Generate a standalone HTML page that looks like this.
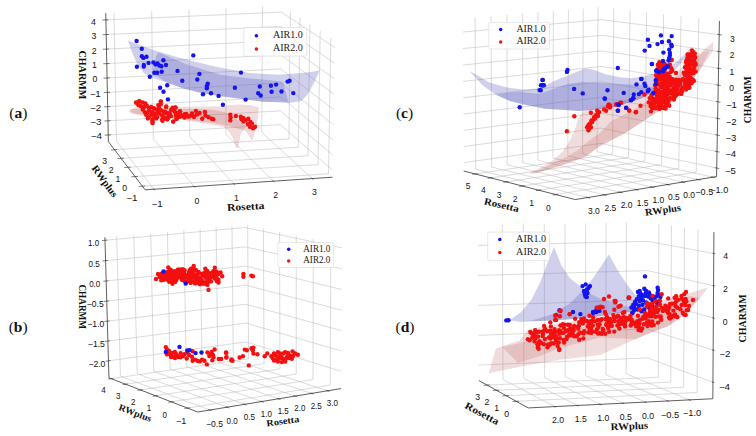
<!DOCTYPE html>
<html><head><meta charset="utf-8"><style>
html,body{margin:0;padding:0;background:#fff;}
svg{display:block;}
.tk{font-family:"Liberation Sans",sans-serif;font-size:8.6px;fill:#111;text-anchor:middle;dominant-baseline:central;}
.lb{font-family:"Liberation Serif",serif;font-weight:bold;fill:#111;}
.lg{font-family:"Liberation Serif",serif;font-size:10.5px;fill:#222;}
</style></head><body>
<svg width="756" height="436" viewBox="0 0 756 436">
<rect width="756" height="436" fill="#fff"/>
<line x1="116.44" y1="141.16" x2="114.00" y2="12.84" stroke="#bdbdbd" stroke-width="0.55"/>
<line x1="153.29" y1="138.93" x2="151.68" y2="11.19" stroke="#bdbdbd" stroke-width="0.55"/>
<line x1="189.79" y1="136.72" x2="188.99" y2="9.56" stroke="#bdbdbd" stroke-width="0.55"/>
<line x1="225.94" y1="134.52" x2="225.94" y2="7.94" stroke="#bdbdbd" stroke-width="0.55"/>
<line x1="261.74" y1="132.35" x2="262.53" y2="6.34" stroke="#bdbdbd" stroke-width="0.55"/>
<line x1="108.24" y1="134.95" x2="280.26" y2="124.67" stroke="#bdbdbd" stroke-width="0.55"/>
<line x1="107.95" y1="120.82" x2="280.39" y2="110.84" stroke="#bdbdbd" stroke-width="0.55"/>
<line x1="107.66" y1="106.62" x2="280.52" y2="96.94" stroke="#bdbdbd" stroke-width="0.55"/>
<line x1="107.37" y1="92.35" x2="280.65" y2="82.97" stroke="#bdbdbd" stroke-width="0.55"/>
<line x1="107.08" y1="78.01" x2="280.79" y2="68.93" stroke="#bdbdbd" stroke-width="0.55"/>
<line x1="106.78" y1="63.60" x2="280.92" y2="54.83" stroke="#bdbdbd" stroke-width="0.55"/>
<line x1="106.49" y1="49.12" x2="281.05" y2="40.66" stroke="#bdbdbd" stroke-width="0.55"/>
<line x1="106.19" y1="34.57" x2="281.19" y2="26.42" stroke="#bdbdbd" stroke-width="0.55"/>
<line x1="105.89" y1="19.94" x2="281.32" y2="12.11" stroke="#bdbdbd" stroke-width="0.55"/>
<line x1="328.44" y1="173.77" x2="330.88" y2="37.79" stroke="#bdbdbd" stroke-width="0.55"/>
<line x1="318.05" y1="164.60" x2="320.20" y2="30.82" stroke="#bdbdbd" stroke-width="0.55"/>
<line x1="308.01" y1="155.75" x2="309.89" y2="24.10" stroke="#bdbdbd" stroke-width="0.55"/>
<line x1="298.31" y1="147.20" x2="299.94" y2="17.61" stroke="#bdbdbd" stroke-width="0.55"/>
<line x1="288.93" y1="138.93" x2="290.32" y2="11.34" stroke="#bdbdbd" stroke-width="0.55"/>
<line x1="332.51" y1="170.11" x2="280.26" y2="124.67" stroke="#bdbdbd" stroke-width="0.55"/>
<line x1="332.79" y1="155.08" x2="280.39" y2="110.84" stroke="#bdbdbd" stroke-width="0.55"/>
<line x1="333.07" y1="139.97" x2="280.52" y2="96.94" stroke="#bdbdbd" stroke-width="0.55"/>
<line x1="333.35" y1="124.78" x2="280.65" y2="82.97" stroke="#bdbdbd" stroke-width="0.55"/>
<line x1="333.63" y1="109.51" x2="280.79" y2="68.93" stroke="#bdbdbd" stroke-width="0.55"/>
<line x1="333.92" y1="94.16" x2="280.92" y2="54.83" stroke="#bdbdbd" stroke-width="0.55"/>
<line x1="334.21" y1="78.72" x2="281.05" y2="40.66" stroke="#bdbdbd" stroke-width="0.55"/>
<line x1="334.50" y1="63.21" x2="281.19" y2="26.42" stroke="#bdbdbd" stroke-width="0.55"/>
<line x1="334.79" y1="47.61" x2="281.32" y2="12.11" stroke="#bdbdbd" stroke-width="0.55"/>
<line x1="153.99" y1="189.23" x2="116.44" y2="141.16" stroke="#bdbdbd" stroke-width="0.55"/>
<line x1="194.20" y1="186.53" x2="153.29" y2="138.93" stroke="#bdbdbd" stroke-width="0.55"/>
<line x1="233.98" y1="183.85" x2="189.79" y2="136.72" stroke="#bdbdbd" stroke-width="0.55"/>
<line x1="273.35" y1="181.20" x2="225.94" y2="134.52" stroke="#bdbdbd" stroke-width="0.55"/>
<line x1="312.31" y1="178.58" x2="261.74" y2="132.35" stroke="#bdbdbd" stroke-width="0.55"/>
<line x1="142.41" y1="186.19" x2="328.44" y2="173.77" stroke="#bdbdbd" stroke-width="0.55"/>
<line x1="135.06" y1="176.58" x2="318.05" y2="164.60" stroke="#bdbdbd" stroke-width="0.55"/>
<line x1="127.98" y1="167.30" x2="308.01" y2="155.75" stroke="#bdbdbd" stroke-width="0.55"/>
<line x1="121.13" y1="158.35" x2="298.31" y2="147.20" stroke="#bdbdbd" stroke-width="0.55"/>
<line x1="114.52" y1="149.69" x2="288.93" y2="138.93" stroke="#bdbdbd" stroke-width="0.55"/>
<line x1="108.38" y1="141.65" x2="105.75" y2="13.20" stroke="#2a2a2a" stroke-width="0.75"/>
<line x1="145.18" y1="189.83" x2="108.38" y2="141.65" stroke="#2a2a2a" stroke-width="0.75"/>
<line x1="145.18" y1="189.83" x2="332.37" y2="177.23" stroke="#2a2a2a" stroke-width="0.75"/>
<line x1="104.72" y1="135.16" x2="110.88" y2="134.80" stroke="#2a2a2a" stroke-width="0.6000000000000001"/>
<line x1="104.42" y1="121.03" x2="110.60" y2="120.67" stroke="#2a2a2a" stroke-width="0.6000000000000001"/>
<line x1="104.12" y1="106.82" x2="110.31" y2="106.48" stroke="#2a2a2a" stroke-width="0.6000000000000001"/>
<line x1="103.82" y1="92.55" x2="110.03" y2="92.21" stroke="#2a2a2a" stroke-width="0.6000000000000001"/>
<line x1="103.52" y1="78.20" x2="109.74" y2="77.88" stroke="#2a2a2a" stroke-width="0.6000000000000001"/>
<line x1="103.22" y1="63.78" x2="109.45" y2="63.47" stroke="#2a2a2a" stroke-width="0.6000000000000001"/>
<line x1="102.91" y1="49.29" x2="109.17" y2="48.99" stroke="#2a2a2a" stroke-width="0.6000000000000001"/>
<line x1="102.61" y1="34.73" x2="108.88" y2="34.44" stroke="#2a2a2a" stroke-width="0.6000000000000001"/>
<line x1="102.30" y1="20.10" x2="108.58" y2="19.82" stroke="#2a2a2a" stroke-width="0.6000000000000001"/>
<line x1="138.59" y1="186.44" x2="145.26" y2="186.00" stroke="#2a2a2a" stroke-width="0.6000000000000001"/>
<line x1="131.31" y1="176.82" x2="137.87" y2="176.40" stroke="#2a2a2a" stroke-width="0.6000000000000001"/>
<line x1="124.29" y1="167.54" x2="130.74" y2="167.13" stroke="#2a2a2a" stroke-width="0.6000000000000001"/>
<line x1="117.50" y1="158.58" x2="123.85" y2="158.18" stroke="#2a2a2a" stroke-width="0.6000000000000001"/>
<line x1="110.95" y1="149.92" x2="117.20" y2="149.53" stroke="#2a2a2a" stroke-width="0.6000000000000001"/>
<line x1="154.81" y1="190.29" x2="153.37" y2="188.44" stroke="#2a2a2a" stroke-width="0.6000000000000001"/>
<line x1="195.10" y1="187.58" x2="193.52" y2="185.75" stroke="#2a2a2a" stroke-width="0.6000000000000001"/>
<line x1="234.95" y1="184.89" x2="233.26" y2="183.08" stroke="#2a2a2a" stroke-width="0.6000000000000001"/>
<line x1="274.39" y1="182.23" x2="272.57" y2="180.44" stroke="#2a2a2a" stroke-width="0.6000000000000001"/>
<line x1="313.42" y1="179.60" x2="311.48" y2="177.83" stroke="#2a2a2a" stroke-width="0.6000000000000001"/>
<text x="157.06" y="203.65" class="tk" textLength="11.20" lengthAdjust="spacingAndGlyphs">−1</text>
<text x="197.02" y="200.80" class="tk" textLength="4.84" lengthAdjust="spacingAndGlyphs">0</text>
<text x="236.56" y="197.97" class="tk" textLength="4.84" lengthAdjust="spacingAndGlyphs">1</text>
<text x="275.68" y="195.18" class="tk" textLength="4.84" lengthAdjust="spacingAndGlyphs">2</text>
<text x="314.38" y="192.41" class="tk" textLength="4.84" lengthAdjust="spacingAndGlyphs">3</text>
<text x="131.95" y="197.86" class="tk" textLength="11.20" lengthAdjust="spacingAndGlyphs">−1</text>
<text x="124.76" y="188.16" class="tk" textLength="4.84" lengthAdjust="spacingAndGlyphs">0</text>
<text x="117.84" y="178.80" class="tk" textLength="4.84" lengthAdjust="spacingAndGlyphs">1</text>
<text x="111.15" y="169.76" class="tk" textLength="4.84" lengthAdjust="spacingAndGlyphs">2</text>
<text x="104.70" y="161.02" class="tk" textLength="4.84" lengthAdjust="spacingAndGlyphs">3</text>
<text x="96.30" y="136.07" class="tk" textLength="11.20" lengthAdjust="spacingAndGlyphs">−4</text>
<text x="95.95" y="122.00" class="tk" textLength="11.20" lengthAdjust="spacingAndGlyphs">−3</text>
<text x="95.60" y="107.87" class="tk" textLength="11.20" lengthAdjust="spacingAndGlyphs">−2</text>
<text x="95.25" y="93.66" class="tk" textLength="11.20" lengthAdjust="spacingAndGlyphs">−1</text>
<text x="94.90" y="79.38" class="tk" textLength="4.84" lengthAdjust="spacingAndGlyphs">0</text>
<text x="94.55" y="65.03" class="tk" textLength="4.84" lengthAdjust="spacingAndGlyphs">1</text>
<text x="94.19" y="50.61" class="tk" textLength="4.84" lengthAdjust="spacingAndGlyphs">2</text>
<text x="93.83" y="36.11" class="tk" textLength="4.84" lengthAdjust="spacingAndGlyphs">3</text>
<text x="93.48" y="21.55" class="tk" textLength="4.84" lengthAdjust="spacingAndGlyphs">4</text>
<line x1="120.44" y1="376.13" x2="116.68" y2="236.24" stroke="#bdbdbd" stroke-width="0.55"/>
<line x1="137.19" y1="373.71" x2="133.80" y2="234.70" stroke="#bdbdbd" stroke-width="0.55"/>
<line x1="153.72" y1="371.32" x2="150.71" y2="233.18" stroke="#bdbdbd" stroke-width="0.55"/>
<line x1="170.04" y1="368.96" x2="167.39" y2="231.68" stroke="#bdbdbd" stroke-width="0.55"/>
<line x1="186.16" y1="366.63" x2="183.85" y2="230.20" stroke="#bdbdbd" stroke-width="0.55"/>
<line x1="202.07" y1="364.33" x2="200.10" y2="228.74" stroke="#bdbdbd" stroke-width="0.55"/>
<line x1="217.77" y1="362.06" x2="216.14" y2="227.29" stroke="#bdbdbd" stroke-width="0.55"/>
<line x1="233.28" y1="359.82" x2="231.97" y2="225.87" stroke="#bdbdbd" stroke-width="0.55"/>
<line x1="108.46" y1="360.87" x2="246.06" y2="341.89" stroke="#bdbdbd" stroke-width="0.55"/>
<line x1="107.90" y1="341.07" x2="245.92" y2="323.10" stroke="#bdbdbd" stroke-width="0.55"/>
<line x1="107.33" y1="321.16" x2="245.77" y2="304.20" stroke="#bdbdbd" stroke-width="0.55"/>
<line x1="106.75" y1="301.13" x2="245.62" y2="285.19" stroke="#bdbdbd" stroke-width="0.55"/>
<line x1="106.17" y1="280.97" x2="245.47" y2="266.08" stroke="#bdbdbd" stroke-width="0.55"/>
<line x1="105.59" y1="260.70" x2="245.32" y2="246.86" stroke="#bdbdbd" stroke-width="0.55"/>
<line x1="105.01" y1="240.30" x2="245.17" y2="227.52" stroke="#bdbdbd" stroke-width="0.55"/>
<line x1="330.20" y1="385.08" x2="330.89" y2="242.52" stroke="#bdbdbd" stroke-width="0.55"/>
<line x1="312.98" y1="379.52" x2="313.30" y2="238.86" stroke="#bdbdbd" stroke-width="0.55"/>
<line x1="296.24" y1="374.12" x2="296.20" y2="235.30" stroke="#bdbdbd" stroke-width="0.55"/>
<line x1="279.94" y1="368.86" x2="279.57" y2="231.84" stroke="#bdbdbd" stroke-width="0.55"/>
<line x1="264.08" y1="363.73" x2="263.39" y2="228.48" stroke="#bdbdbd" stroke-width="0.55"/>
<line x1="248.64" y1="358.75" x2="247.64" y2="225.20" stroke="#bdbdbd" stroke-width="0.55"/>
<line x1="341.14" y1="371.27" x2="246.06" y2="341.89" stroke="#bdbdbd" stroke-width="0.55"/>
<line x1="341.27" y1="351.02" x2="245.92" y2="323.10" stroke="#bdbdbd" stroke-width="0.55"/>
<line x1="341.40" y1="330.65" x2="245.77" y2="304.20" stroke="#bdbdbd" stroke-width="0.55"/>
<line x1="341.53" y1="310.15" x2="245.62" y2="285.19" stroke="#bdbdbd" stroke-width="0.55"/>
<line x1="341.67" y1="289.53" x2="245.47" y2="266.08" stroke="#bdbdbd" stroke-width="0.55"/>
<line x1="341.80" y1="268.78" x2="245.32" y2="246.86" stroke="#bdbdbd" stroke-width="0.55"/>
<line x1="341.94" y1="247.89" x2="245.17" y2="227.52" stroke="#bdbdbd" stroke-width="0.55"/>
<line x1="209.70" y1="410.03" x2="120.44" y2="376.13" stroke="#bdbdbd" stroke-width="0.55"/>
<line x1="227.26" y1="407.16" x2="137.19" y2="373.71" stroke="#bdbdbd" stroke-width="0.55"/>
<line x1="244.57" y1="404.34" x2="153.72" y2="371.32" stroke="#bdbdbd" stroke-width="0.55"/>
<line x1="261.64" y1="401.55" x2="170.04" y2="368.96" stroke="#bdbdbd" stroke-width="0.55"/>
<line x1="278.47" y1="398.80" x2="186.16" y2="366.63" stroke="#bdbdbd" stroke-width="0.55"/>
<line x1="295.07" y1="396.09" x2="202.07" y2="364.33" stroke="#bdbdbd" stroke-width="0.55"/>
<line x1="311.45" y1="393.41" x2="217.77" y2="362.06" stroke="#bdbdbd" stroke-width="0.55"/>
<line x1="327.60" y1="390.77" x2="233.28" y2="359.82" stroke="#bdbdbd" stroke-width="0.55"/>
<line x1="187.48" y1="408.08" x2="330.20" y2="385.08" stroke="#bdbdbd" stroke-width="0.55"/>
<line x1="171.33" y1="401.85" x2="312.98" y2="379.52" stroke="#bdbdbd" stroke-width="0.55"/>
<line x1="155.66" y1="395.81" x2="296.24" y2="374.12" stroke="#bdbdbd" stroke-width="0.55"/>
<line x1="140.42" y1="389.93" x2="279.94" y2="368.86" stroke="#bdbdbd" stroke-width="0.55"/>
<line x1="125.62" y1="384.22" x2="264.08" y2="363.73" stroke="#bdbdbd" stroke-width="0.55"/>
<line x1="111.23" y1="378.67" x2="248.64" y2="358.75" stroke="#bdbdbd" stroke-width="0.55"/>
<line x1="108.95" y1="377.79" x2="104.92" y2="237.30" stroke="#2a2a2a" stroke-width="0.75"/>
<line x1="197.65" y1="412.00" x2="108.95" y2="377.79" stroke="#2a2a2a" stroke-width="0.75"/>
<line x1="197.65" y1="412.00" x2="341.02" y2="388.58" stroke="#2a2a2a" stroke-width="0.75"/>
<line x1="105.55" y1="361.27" x2="110.64" y2="360.57" stroke="#2a2a2a" stroke-width="0.6000000000000001"/>
<line x1="104.98" y1="341.45" x2="110.08" y2="340.79" stroke="#2a2a2a" stroke-width="0.6000000000000001"/>
<line x1="104.40" y1="321.52" x2="109.52" y2="320.89" stroke="#2a2a2a" stroke-width="0.6000000000000001"/>
<line x1="103.81" y1="301.46" x2="108.95" y2="300.88" stroke="#2a2a2a" stroke-width="0.6000000000000001"/>
<line x1="103.23" y1="281.29" x2="108.38" y2="280.74" stroke="#2a2a2a" stroke-width="0.6000000000000001"/>
<line x1="102.64" y1="260.99" x2="107.81" y2="260.48" stroke="#2a2a2a" stroke-width="0.6000000000000001"/>
<line x1="102.04" y1="240.57" x2="107.23" y2="240.10" stroke="#2a2a2a" stroke-width="0.6000000000000001"/>
<line x1="184.45" y1="408.57" x2="189.75" y2="407.72" stroke="#2a2a2a" stroke-width="0.6000000000000001"/>
<line x1="168.33" y1="402.33" x2="173.58" y2="401.50" stroke="#2a2a2a" stroke-width="0.6000000000000001"/>
<line x1="152.68" y1="396.27" x2="157.89" y2="395.46" stroke="#2a2a2a" stroke-width="0.6000000000000001"/>
<line x1="137.47" y1="390.38" x2="142.64" y2="389.60" stroke="#2a2a2a" stroke-width="0.6000000000000001"/>
<line x1="122.69" y1="384.65" x2="127.81" y2="383.90" stroke="#2a2a2a" stroke-width="0.6000000000000001"/>
<line x1="108.32" y1="379.09" x2="113.40" y2="378.35" stroke="#2a2a2a" stroke-width="0.6000000000000001"/>
<line x1="211.65" y1="410.77" x2="208.25" y2="409.48" stroke="#2a2a2a" stroke-width="0.6000000000000001"/>
<line x1="229.22" y1="407.89" x2="225.79" y2="406.62" stroke="#2a2a2a" stroke-width="0.6000000000000001"/>
<line x1="246.54" y1="405.05" x2="243.09" y2="403.80" stroke="#2a2a2a" stroke-width="0.6000000000000001"/>
<line x1="263.63" y1="402.26" x2="260.15" y2="401.02" stroke="#2a2a2a" stroke-width="0.6000000000000001"/>
<line x1="280.48" y1="399.50" x2="276.97" y2="398.28" stroke="#2a2a2a" stroke-width="0.6000000000000001"/>
<line x1="297.09" y1="396.78" x2="293.56" y2="395.57" stroke="#2a2a2a" stroke-width="0.6000000000000001"/>
<line x1="313.48" y1="394.09" x2="309.93" y2="392.90" stroke="#2a2a2a" stroke-width="0.6000000000000001"/>
<line x1="329.64" y1="391.44" x2="326.07" y2="390.27" stroke="#2a2a2a" stroke-width="0.6000000000000001"/>
<text x="214.46" y="423.62" class="tk" textLength="17.00" lengthAdjust="spacingAndGlyphs">−0.5</text>
<text x="232.02" y="420.51" class="tk" textLength="11.13" lengthAdjust="spacingAndGlyphs">0.0</text>
<text x="249.33" y="417.44" class="tk" textLength="11.13" lengthAdjust="spacingAndGlyphs">0.5</text>
<text x="266.41" y="414.41" class="tk" textLength="11.13" lengthAdjust="spacingAndGlyphs">1.0</text>
<text x="283.24" y="411.42" class="tk" textLength="11.13" lengthAdjust="spacingAndGlyphs">1.5</text>
<text x="299.84" y="408.47" class="tk" textLength="11.13" lengthAdjust="spacingAndGlyphs">2.0</text>
<text x="316.22" y="405.55" class="tk" textLength="11.13" lengthAdjust="spacingAndGlyphs">2.5</text>
<text x="332.37" y="402.67" class="tk" textLength="11.13" lengthAdjust="spacingAndGlyphs">3.0</text>
<text x="181.26" y="421.05" class="tk" textLength="10.32" lengthAdjust="spacingAndGlyphs">−1</text>
<text x="164.83" y="414.57" class="tk" textLength="4.45" lengthAdjust="spacingAndGlyphs">0</text>
<text x="148.86" y="408.27" class="tk" textLength="4.45" lengthAdjust="spacingAndGlyphs">1</text>
<text x="133.34" y="402.15" class="tk" textLength="4.45" lengthAdjust="spacingAndGlyphs">2</text>
<text x="118.25" y="396.18" class="tk" textLength="4.45" lengthAdjust="spacingAndGlyphs">3</text>
<text x="103.57" y="390.38" class="tk" textLength="4.45" lengthAdjust="spacingAndGlyphs">4</text>
<text x="96.92" y="364.02" class="tk" textLength="17.00" lengthAdjust="spacingAndGlyphs">−2.0</text>
<text x="96.37" y="344.19" class="tk" textLength="17.00" lengthAdjust="spacingAndGlyphs">−1.5</text>
<text x="95.82" y="324.24" class="tk" textLength="17.00" lengthAdjust="spacingAndGlyphs">−1.0</text>
<text x="95.26" y="304.17" class="tk" textLength="17.00" lengthAdjust="spacingAndGlyphs">−0.5</text>
<text x="94.70" y="283.98" class="tk" textLength="11.13" lengthAdjust="spacingAndGlyphs">0.0</text>
<text x="94.14" y="263.67" class="tk" textLength="11.13" lengthAdjust="spacingAndGlyphs">0.5</text>
<text x="93.58" y="243.24" class="tk" textLength="11.13" lengthAdjust="spacingAndGlyphs">1.0</text>
<line x1="597.00" y1="151.78" x2="598.00" y2="7.29" stroke="#bdbdbd" stroke-width="0.55"/>
<line x1="582.49" y1="153.87" x2="583.29" y2="8.53" stroke="#bdbdbd" stroke-width="0.55"/>
<line x1="567.81" y1="155.99" x2="568.40" y2="9.78" stroke="#bdbdbd" stroke-width="0.55"/>
<line x1="552.94" y1="158.13" x2="553.33" y2="11.04" stroke="#bdbdbd" stroke-width="0.55"/>
<line x1="537.89" y1="160.30" x2="538.06" y2="12.32" stroke="#bdbdbd" stroke-width="0.55"/>
<line x1="522.65" y1="162.50" x2="522.61" y2="13.62" stroke="#bdbdbd" stroke-width="0.55"/>
<line x1="507.23" y1="164.72" x2="506.95" y2="14.94" stroke="#bdbdbd" stroke-width="0.55"/>
<line x1="491.61" y1="166.98" x2="491.10" y2="16.27" stroke="#bdbdbd" stroke-width="0.55"/>
<line x1="475.79" y1="169.26" x2="475.05" y2="17.61" stroke="#bdbdbd" stroke-width="0.55"/>
<line x1="600.61" y1="143.37" x2="463.66" y2="162.67" stroke="#bdbdbd" stroke-width="0.55"/>
<line x1="600.72" y1="128.07" x2="463.57" y2="146.52" stroke="#bdbdbd" stroke-width="0.55"/>
<line x1="600.83" y1="112.72" x2="463.47" y2="130.31" stroke="#bdbdbd" stroke-width="0.55"/>
<line x1="600.95" y1="97.33" x2="463.37" y2="114.06" stroke="#bdbdbd" stroke-width="0.55"/>
<line x1="601.06" y1="81.88" x2="463.27" y2="97.76" stroke="#bdbdbd" stroke-width="0.55"/>
<line x1="601.17" y1="66.40" x2="463.17" y2="81.40" stroke="#bdbdbd" stroke-width="0.55"/>
<line x1="601.28" y1="50.86" x2="463.07" y2="65.00" stroke="#bdbdbd" stroke-width="0.55"/>
<line x1="601.40" y1="35.28" x2="462.97" y2="48.54" stroke="#bdbdbd" stroke-width="0.55"/>
<line x1="601.51" y1="19.65" x2="462.87" y2="32.02" stroke="#bdbdbd" stroke-width="0.55"/>
<line x1="696.25" y1="172.15" x2="698.81" y2="18.52" stroke="#bdbdbd" stroke-width="0.55"/>
<line x1="678.75" y1="168.33" x2="681.02" y2="16.41" stroke="#bdbdbd" stroke-width="0.55"/>
<line x1="661.65" y1="164.60" x2="663.64" y2="14.35" stroke="#bdbdbd" stroke-width="0.55"/>
<line x1="644.92" y1="160.95" x2="646.65" y2="12.33" stroke="#bdbdbd" stroke-width="0.55"/>
<line x1="628.57" y1="157.38" x2="630.04" y2="10.36" stroke="#bdbdbd" stroke-width="0.55"/>
<line x1="612.56" y1="153.89" x2="613.79" y2="8.44" stroke="#bdbdbd" stroke-width="0.55"/>
<line x1="716.71" y1="168.07" x2="600.61" y2="143.37" stroke="#bdbdbd" stroke-width="0.55"/>
<line x1="717.02" y1="151.58" x2="600.72" y2="128.07" stroke="#bdbdbd" stroke-width="0.55"/>
<line x1="717.33" y1="135.04" x2="600.83" y2="112.72" stroke="#bdbdbd" stroke-width="0.55"/>
<line x1="717.63" y1="118.44" x2="600.95" y2="97.33" stroke="#bdbdbd" stroke-width="0.55"/>
<line x1="717.95" y1="101.79" x2="601.06" y2="81.88" stroke="#bdbdbd" stroke-width="0.55"/>
<line x1="718.26" y1="85.08" x2="601.17" y2="66.40" stroke="#bdbdbd" stroke-width="0.55"/>
<line x1="718.57" y1="68.32" x2="601.28" y2="50.86" stroke="#bdbdbd" stroke-width="0.55"/>
<line x1="718.88" y1="51.51" x2="601.40" y2="35.28" stroke="#bdbdbd" stroke-width="0.55"/>
<line x1="719.20" y1="34.64" x2="601.51" y2="19.65" stroke="#bdbdbd" stroke-width="0.55"/>
<line x1="696.25" y1="172.15" x2="555.68" y2="194.54" stroke="#bdbdbd" stroke-width="0.55"/>
<line x1="678.75" y1="168.33" x2="538.82" y2="190.22" stroke="#bdbdbd" stroke-width="0.55"/>
<line x1="661.65" y1="164.60" x2="522.35" y2="186.01" stroke="#bdbdbd" stroke-width="0.55"/>
<line x1="644.92" y1="160.95" x2="506.27" y2="181.89" stroke="#bdbdbd" stroke-width="0.55"/>
<line x1="628.57" y1="157.38" x2="490.56" y2="177.87" stroke="#bdbdbd" stroke-width="0.55"/>
<line x1="612.56" y1="153.89" x2="475.22" y2="173.94" stroke="#bdbdbd" stroke-width="0.55"/>
<line x1="712.90" y1="177.17" x2="597.00" y2="151.78" stroke="#bdbdbd" stroke-width="0.55"/>
<line x1="697.98" y1="179.60" x2="582.49" y2="153.87" stroke="#bdbdbd" stroke-width="0.55"/>
<line x1="682.86" y1="182.06" x2="567.81" y2="155.99" stroke="#bdbdbd" stroke-width="0.55"/>
<line x1="667.54" y1="184.55" x2="552.94" y2="158.13" stroke="#bdbdbd" stroke-width="0.55"/>
<line x1="652.02" y1="187.07" x2="537.89" y2="160.30" stroke="#bdbdbd" stroke-width="0.55"/>
<line x1="636.29" y1="189.63" x2="522.65" y2="162.50" stroke="#bdbdbd" stroke-width="0.55"/>
<line x1="620.35" y1="192.22" x2="507.23" y2="164.72" stroke="#bdbdbd" stroke-width="0.55"/>
<line x1="604.18" y1="194.85" x2="491.61" y2="166.98" stroke="#bdbdbd" stroke-width="0.55"/>
<line x1="587.80" y1="197.52" x2="475.79" y2="169.26" stroke="#bdbdbd" stroke-width="0.55"/>
<line x1="716.55" y1="176.58" x2="719.45" y2="20.97" stroke="#2a2a2a" stroke-width="0.75"/>
<line x1="575.28" y1="199.55" x2="463.71" y2="171.00" stroke="#2a2a2a" stroke-width="0.75"/>
<line x1="716.55" y1="176.58" x2="575.28" y2="199.55" stroke="#2a2a2a" stroke-width="0.75"/>
<line x1="719.22" y1="168.60" x2="714.83" y2="167.67" stroke="#2a2a2a" stroke-width="0.6000000000000001"/>
<line x1="719.53" y1="152.09" x2="715.13" y2="151.20" stroke="#2a2a2a" stroke-width="0.6000000000000001"/>
<line x1="719.85" y1="135.52" x2="715.44" y2="134.67" stroke="#2a2a2a" stroke-width="0.6000000000000001"/>
<line x1="720.16" y1="118.90" x2="715.75" y2="118.10" stroke="#2a2a2a" stroke-width="0.6000000000000001"/>
<line x1="720.48" y1="102.22" x2="716.05" y2="101.46" stroke="#2a2a2a" stroke-width="0.6000000000000001"/>
<line x1="720.79" y1="85.49" x2="716.36" y2="84.78" stroke="#2a2a2a" stroke-width="0.6000000000000001"/>
<line x1="721.11" y1="68.70" x2="716.67" y2="68.04" stroke="#2a2a2a" stroke-width="0.6000000000000001"/>
<line x1="721.43" y1="51.86" x2="716.98" y2="51.25" stroke="#2a2a2a" stroke-width="0.6000000000000001"/>
<line x1="721.75" y1="34.96" x2="717.29" y2="34.40" stroke="#2a2a2a" stroke-width="0.6000000000000001"/>
<line x1="552.69" y1="195.01" x2="557.92" y2="194.18" stroke="#2a2a2a" stroke-width="0.6000000000000001"/>
<line x1="535.84" y1="190.68" x2="541.04" y2="189.87" stroke="#2a2a2a" stroke-width="0.6000000000000001"/>
<line x1="519.39" y1="186.46" x2="524.56" y2="185.67" stroke="#2a2a2a" stroke-width="0.6000000000000001"/>
<line x1="503.33" y1="182.33" x2="508.47" y2="181.56" stroke="#2a2a2a" stroke-width="0.6000000000000001"/>
<line x1="487.64" y1="178.30" x2="492.75" y2="177.55" stroke="#2a2a2a" stroke-width="0.6000000000000001"/>
<line x1="472.31" y1="174.37" x2="477.40" y2="173.62" stroke="#2a2a2a" stroke-width="0.6000000000000001"/>
<line x1="715.41" y1="177.72" x2="711.03" y2="176.76" stroke="#2a2a2a" stroke-width="0.6000000000000001"/>
<line x1="700.48" y1="180.15" x2="696.11" y2="179.18" stroke="#2a2a2a" stroke-width="0.6000000000000001"/>
<line x1="685.35" y1="182.62" x2="681.00" y2="181.63" stroke="#2a2a2a" stroke-width="0.6000000000000001"/>
<line x1="670.03" y1="185.12" x2="665.69" y2="184.12" stroke="#2a2a2a" stroke-width="0.6000000000000001"/>
<line x1="654.50" y1="187.65" x2="650.17" y2="186.64" stroke="#2a2a2a" stroke-width="0.6000000000000001"/>
<line x1="638.75" y1="190.22" x2="634.45" y2="189.19" stroke="#2a2a2a" stroke-width="0.6000000000000001"/>
<line x1="622.80" y1="192.82" x2="618.51" y2="191.78" stroke="#2a2a2a" stroke-width="0.6000000000000001"/>
<line x1="606.63" y1="195.46" x2="602.36" y2="194.40" stroke="#2a2a2a" stroke-width="0.6000000000000001"/>
<line x1="590.23" y1="198.13" x2="585.98" y2="197.06" stroke="#2a2a2a" stroke-width="0.6000000000000001"/>
<text x="548.39" y="207.84" class="tk" textLength="4.71" lengthAdjust="spacingAndGlyphs">0</text>
<text x="531.55" y="203.31" class="tk" textLength="4.71" lengthAdjust="spacingAndGlyphs">1</text>
<text x="515.10" y="198.88" class="tk" textLength="4.71" lengthAdjust="spacingAndGlyphs">2</text>
<text x="499.05" y="194.56" class="tk" textLength="4.71" lengthAdjust="spacingAndGlyphs">3</text>
<text x="483.37" y="190.33" class="tk" textLength="4.71" lengthAdjust="spacingAndGlyphs">4</text>
<text x="468.04" y="186.19" class="tk" textLength="4.71" lengthAdjust="spacingAndGlyphs">5</text>
<text x="719.23" y="189.66" class="tk" textLength="17.97" lengthAdjust="spacingAndGlyphs">−1.0</text>
<text x="704.29" y="192.21" class="tk" textLength="17.97" lengthAdjust="spacingAndGlyphs">−0.5</text>
<text x="689.15" y="194.79" class="tk" textLength="11.77" lengthAdjust="spacingAndGlyphs">0.0</text>
<text x="673.81" y="197.41" class="tk" textLength="11.77" lengthAdjust="spacingAndGlyphs">0.5</text>
<text x="658.26" y="200.05" class="tk" textLength="11.77" lengthAdjust="spacingAndGlyphs">1.0</text>
<text x="642.51" y="202.73" class="tk" textLength="11.77" lengthAdjust="spacingAndGlyphs">1.5</text>
<text x="626.54" y="205.45" class="tk" textLength="11.77" lengthAdjust="spacingAndGlyphs">2.0</text>
<text x="610.36" y="208.20" class="tk" textLength="11.77" lengthAdjust="spacingAndGlyphs">2.5</text>
<text x="593.95" y="210.99" class="tk" textLength="11.77" lengthAdjust="spacingAndGlyphs">3.0</text>
<text x="730.36" y="170.73" class="tk" textLength="10.91" lengthAdjust="spacingAndGlyphs">−5</text>
<text x="730.61" y="154.39" class="tk" textLength="10.91" lengthAdjust="spacingAndGlyphs">−4</text>
<text x="730.86" y="137.99" class="tk" textLength="10.91" lengthAdjust="spacingAndGlyphs">−3</text>
<text x="731.11" y="121.55" class="tk" textLength="10.91" lengthAdjust="spacingAndGlyphs">−2</text>
<text x="731.36" y="105.05" class="tk" textLength="10.91" lengthAdjust="spacingAndGlyphs">−1</text>
<text x="731.61" y="88.49" class="tk" textLength="4.71" lengthAdjust="spacingAndGlyphs">0</text>
<text x="731.86" y="71.89" class="tk" textLength="4.71" lengthAdjust="spacingAndGlyphs">1</text>
<text x="732.11" y="55.22" class="tk" textLength="4.71" lengthAdjust="spacingAndGlyphs">2</text>
<text x="732.36" y="38.50" class="tk" textLength="4.71" lengthAdjust="spacingAndGlyphs">3</text>
<line x1="626.17" y1="373.87" x2="626.43" y2="222.48" stroke="#bdbdbd" stroke-width="0.55"/>
<line x1="605.98" y1="374.78" x2="606.08" y2="222.90" stroke="#bdbdbd" stroke-width="0.55"/>
<line x1="585.66" y1="375.69" x2="585.60" y2="223.32" stroke="#bdbdbd" stroke-width="0.55"/>
<line x1="565.20" y1="376.62" x2="564.98" y2="223.75" stroke="#bdbdbd" stroke-width="0.55"/>
<line x1="544.61" y1="377.55" x2="544.22" y2="224.18" stroke="#bdbdbd" stroke-width="0.55"/>
<line x1="523.88" y1="378.48" x2="523.32" y2="224.61" stroke="#bdbdbd" stroke-width="0.55"/>
<line x1="503.02" y1="379.42" x2="502.28" y2="225.04" stroke="#bdbdbd" stroke-width="0.55"/>
<line x1="647.43" y1="357.91" x2="478.78" y2="365.11" stroke="#bdbdbd" stroke-width="0.55"/>
<line x1="647.51" y1="328.90" x2="478.60" y2="335.32" stroke="#bdbdbd" stroke-width="0.55"/>
<line x1="647.59" y1="299.80" x2="478.42" y2="305.42" stroke="#bdbdbd" stroke-width="0.55"/>
<line x1="647.68" y1="270.61" x2="478.24" y2="275.44" stroke="#bdbdbd" stroke-width="0.55"/>
<line x1="647.76" y1="241.33" x2="478.06" y2="245.36" stroke="#bdbdbd" stroke-width="0.55"/>
<line x1="697.10" y1="392.51" x2="698.00" y2="229.71" stroke="#bdbdbd" stroke-width="0.55"/>
<line x1="683.67" y1="387.22" x2="684.44" y2="227.64" stroke="#bdbdbd" stroke-width="0.55"/>
<line x1="670.77" y1="382.13" x2="671.41" y2="225.65" stroke="#bdbdbd" stroke-width="0.55"/>
<line x1="658.36" y1="377.24" x2="658.89" y2="223.73" stroke="#bdbdbd" stroke-width="0.55"/>
<line x1="712.95" y1="382.18" x2="647.43" y2="357.91" stroke="#bdbdbd" stroke-width="0.55"/>
<line x1="713.15" y1="350.16" x2="647.51" y2="328.90" stroke="#bdbdbd" stroke-width="0.55"/>
<line x1="713.36" y1="318.04" x2="647.59" y2="299.80" stroke="#bdbdbd" stroke-width="0.55"/>
<line x1="713.56" y1="285.80" x2="647.68" y2="270.61" stroke="#bdbdbd" stroke-width="0.55"/>
<line x1="713.77" y1="253.46" x2="647.76" y2="241.33" stroke="#bdbdbd" stroke-width="0.55"/>
<line x1="697.10" y1="392.51" x2="516.27" y2="401.32" stroke="#bdbdbd" stroke-width="0.55"/>
<line x1="683.67" y1="387.22" x2="506.15" y2="395.69" stroke="#bdbdbd" stroke-width="0.55"/>
<line x1="670.77" y1="382.13" x2="496.44" y2="390.29" stroke="#bdbdbd" stroke-width="0.55"/>
<line x1="658.36" y1="377.24" x2="487.12" y2="385.10" stroke="#bdbdbd" stroke-width="0.55"/>
<line x1="689.65" y1="399.88" x2="626.17" y2="373.87" stroke="#bdbdbd" stroke-width="0.55"/>
<line x1="667.56" y1="400.98" x2="605.98" y2="374.78" stroke="#bdbdbd" stroke-width="0.55"/>
<line x1="645.31" y1="402.09" x2="585.66" y2="375.69" stroke="#bdbdbd" stroke-width="0.55"/>
<line x1="622.89" y1="403.21" x2="565.20" y2="376.62" stroke="#bdbdbd" stroke-width="0.55"/>
<line x1="600.32" y1="404.33" x2="544.61" y2="377.55" stroke="#bdbdbd" stroke-width="0.55"/>
<line x1="577.58" y1="405.47" x2="523.88" y2="378.48" stroke="#bdbdbd" stroke-width="0.55"/>
<line x1="554.67" y1="406.61" x2="503.02" y2="379.42" stroke="#bdbdbd" stroke-width="0.55"/>
<line x1="712.84" y1="398.72" x2="713.90" y2="232.15" stroke="#2a2a2a" stroke-width="0.75"/>
<line x1="528.14" y1="407.93" x2="478.88" y2="380.51" stroke="#2a2a2a" stroke-width="0.75"/>
<line x1="712.84" y1="398.72" x2="528.14" y2="407.93" stroke="#2a2a2a" stroke-width="0.75"/>
<line x1="714.40" y1="382.72" x2="711.87" y2="381.78" stroke="#2a2a2a" stroke-width="0.6000000000000001"/>
<line x1="714.61" y1="350.63" x2="712.07" y2="349.81" stroke="#2a2a2a" stroke-width="0.6000000000000001"/>
<line x1="714.81" y1="318.44" x2="712.27" y2="317.73" stroke="#2a2a2a" stroke-width="0.6000000000000001"/>
<line x1="715.02" y1="286.14" x2="712.47" y2="285.55" stroke="#2a2a2a" stroke-width="0.6000000000000001"/>
<line x1="715.23" y1="253.73" x2="712.67" y2="253.26" stroke="#2a2a2a" stroke-width="0.6000000000000001"/>
<line x1="512.54" y1="401.50" x2="519.06" y2="401.19" stroke="#2a2a2a" stroke-width="0.6000000000000001"/>
<line x1="502.50" y1="395.87" x2="508.89" y2="395.56" stroke="#2a2a2a" stroke-width="0.6000000000000001"/>
<line x1="492.86" y1="390.46" x2="499.13" y2="390.16" stroke="#2a2a2a" stroke-width="0.6000000000000001"/>
<line x1="483.60" y1="385.26" x2="489.76" y2="384.98" stroke="#2a2a2a" stroke-width="0.6000000000000001"/>
<line x1="691.05" y1="400.46" x2="688.59" y2="399.45" stroke="#2a2a2a" stroke-width="0.6000000000000001"/>
<line x1="668.92" y1="401.56" x2="666.54" y2="400.55" stroke="#2a2a2a" stroke-width="0.6000000000000001"/>
<line x1="646.63" y1="402.67" x2="644.32" y2="401.65" stroke="#2a2a2a" stroke-width="0.6000000000000001"/>
<line x1="624.17" y1="403.80" x2="621.94" y2="402.77" stroke="#2a2a2a" stroke-width="0.6000000000000001"/>
<line x1="601.56" y1="404.93" x2="599.40" y2="403.89" stroke="#2a2a2a" stroke-width="0.6000000000000001"/>
<line x1="578.77" y1="406.06" x2="576.69" y2="405.02" stroke="#2a2a2a" stroke-width="0.6000000000000001"/>
<line x1="555.82" y1="407.21" x2="553.81" y2="406.16" stroke="#2a2a2a" stroke-width="0.6000000000000001"/>
<text x="506.69" y="413.77" class="tk" textLength="4.84" lengthAdjust="spacingAndGlyphs">0</text>
<text x="496.63" y="407.96" class="tk" textLength="4.84" lengthAdjust="spacingAndGlyphs">1</text>
<text x="486.98" y="402.37" class="tk" textLength="4.84" lengthAdjust="spacingAndGlyphs">2</text>
<text x="477.71" y="397.00" class="tk" textLength="4.84" lengthAdjust="spacingAndGlyphs">3</text>
<text x="692.05" y="413.46" class="tk" textLength="18.45" lengthAdjust="spacingAndGlyphs">−1.0</text>
<text x="670.11" y="414.59" class="tk" textLength="18.45" lengthAdjust="spacingAndGlyphs">−0.5</text>
<text x="648.00" y="415.72" class="tk" textLength="12.09" lengthAdjust="spacingAndGlyphs">0.0</text>
<text x="625.74" y="416.86" class="tk" textLength="12.09" lengthAdjust="spacingAndGlyphs">0.5</text>
<text x="603.32" y="418.00" class="tk" textLength="12.09" lengthAdjust="spacingAndGlyphs">1.0</text>
<text x="580.72" y="419.16" class="tk" textLength="12.09" lengthAdjust="spacingAndGlyphs">1.5</text>
<text x="557.96" y="420.32" class="tk" textLength="12.09" lengthAdjust="spacingAndGlyphs">2.0</text>
<text x="724.50" y="386.55" class="tk" textLength="11.20" lengthAdjust="spacingAndGlyphs">−4</text>
<text x="724.80" y="354.16" class="tk" textLength="11.20" lengthAdjust="spacingAndGlyphs">−2</text>
<text x="725.10" y="321.67" class="tk" textLength="4.84" lengthAdjust="spacingAndGlyphs">0</text>
<text x="725.40" y="289.06" class="tk" textLength="4.84" lengthAdjust="spacingAndGlyphs">2</text>
<text x="725.70" y="256.35" class="tk" textLength="4.84" lengthAdjust="spacingAndGlyphs">4</text>
<polygon points="127.9,40.2 138.4,44.7 156.7,51.1 175.1,56.6 193.4,61.2 211.8,65.8 225.0,68.5 249.0,73.0 278.0,74.7 307.0,72.6 319.7,70.4 314.6,82.0 307.3,95.1 301.5,100.9 289.8,103.1 263.6,101.7 234.5,98.0 225.0,97.0 202.6,93.3 184.2,88.7 165.9,82.3 151.4,77.4 143.9,72.9 137.6,64.8 131.9,52.2" fill="#6262c0" fill-opacity="0.3"/>
<polygon points="158.3,52.2 185.0,63.7 220.0,74.7 250.0,78.5 278.2,81.0 283.0,82.0 288.4,101.7 263.6,101.7 234.5,98.0 202.6,93.3 184.2,88.7 165.9,82.3 152.5,72.9 156.0,56.2" fill="#6262c0" fill-opacity="0.3"/>
<polygon points="128.0,111.0 136.9,106.9 160.0,106.3 180.0,106.9 200.0,106.5 225.3,106.3 227.7,105.2 239.6,104.6 251.5,105.2 258.7,107.5 258.1,115.9 256.3,127.8 252.7,139.7 251.5,140.3 246.8,132.6 243.2,130.2 240.8,133.8 239.0,143.3 238.2,148.1 236.0,147.5 232.5,137.3 227.7,130.2 224.1,127.2 215.8,125.4 203.8,123.6 191.9,121.2 180.0,119.5 160.0,118.0 140.0,115.5 130.5,112.9" fill="#b45050" fill-opacity="0.2"/>
<polygon points="130.0,109.0 150.0,108.0 180.0,108.7 203.8,109.3 215.8,109.9 225.3,112.3 233.6,117.1 242.0,123.0 246.8,126.6 243.2,130.2 233.6,127.2 225.3,125.4 215.8,123.6 203.8,121.8 180.0,118.9 150.0,116.0 132.0,113.0" fill="#b45050" fill-opacity="0.22"/>
<polygon points="469.4,71.2 475.6,74.3 482.5,78.4 489.4,82.5 496.3,84.6 503.2,86.6 510.0,88.0 523.8,89.4 537.6,88.5 544.4,86.0 553.8,81.3 561.6,78.0 567.5,75.8 578.6,71.0 585.4,68.2 595.1,70.3 606.1,74.4 620.0,77.2 630.5,78.2 645.0,76.0 654.6,73.0 665.0,68.0 675.2,63.0 685.0,54.0 692.4,46.5 688.0,55.0 675.0,70.0 658.0,90.2 640.8,98.8 625.0,104.0 613.3,107.5 595.0,110.0 578.8,110.9 560.0,109.5 545.0,108.7 537.6,107.3 523.8,104.5 510.0,101.1 496.3,94.9 482.5,85.3 475.0,77.0" fill="#6262c0" fill-opacity="0.3"/>
<polygon points="505.0,93.0 520.0,92.0 540.0,93.7 567.5,84.1 581.3,82.0 595.1,82.7 620.0,84.1 640.0,85.0 658.0,88.0 640.8,98.8 613.3,107.5 578.8,110.9 545.0,108.7 523.8,104.5 510.0,101.1 496.3,94.9" fill="#6262c0" fill-opacity="0.3"/>
<polygon points="528.4,173.6 538.9,168.6 549.0,162.9 556.6,157.2 562.9,150.9 567.9,144.0 571.7,136.4 575.5,127.6 578.5,118.0 582.0,112.0 590.0,109.2 610.6,104.0 631.3,97.9 647.8,91.7 658.1,84.4 668.3,78.0 689.0,62.0 713.1,42.0 713.1,50.7 700.0,70.0 693.2,78.3 682.9,90.6 668.4,105.1 651.9,115.4 625.0,133.3 600.0,146.0 585.0,157.0 570.9,162.1 559.4,166.1 547.9,169.6 536.5,173.0" fill="#b45050" fill-opacity="0.2"/>
<polygon points="528.4,173.6 542.2,169.0 553.7,162.7 565.2,157.5 576.6,151.0 590.0,140.0 600.0,133.0 610.6,121.6 631.3,111.3 647.8,101.0 660.2,90.6 672.5,80.3 682.9,72.1 702.8,52.0 709.7,50.7 700.0,70.0 693.2,78.3 682.9,90.6 668.4,105.1 651.9,115.4 625.0,133.3 600.0,146.0 585.0,157.0 570.9,162.1 559.4,166.1 547.9,169.6 536.5,173.0" fill="#b45050" fill-opacity="0.2"/>
<polygon points="510.6,319.4 521.2,312.0 531.7,299.3 540.2,282.3 546.6,265.4 550.8,254.8 554.0,246.8 561.4,265.4 569.8,278.1 580.4,286.6 588.9,292.9 601.6,299.3 616.4,303.5 631.2,307.7 640.0,311.0 620.0,313.0 600.0,316.0 580.0,318.5 560.0,320.0 540.0,321.0 520.0,321.5 510.6,320.5" fill="#6262c0" fill-opacity="0.3"/>
<polygon points="512.7,321.5 531.7,320.4 552.9,314.1 569.8,303.5 582.5,290.8 593.1,278.1 601.6,265.4 609.0,254.4 618.5,271.7 627.0,284.4 635.4,295.0 643.9,301.4 655.0,306.0 640.0,310.0 620.0,313.0 600.0,316.0 580.0,318.5 560.0,320.0 540.0,321.0 520.0,321.5" fill="#6262c0" fill-opacity="0.3"/>
<polygon points="488.7,373.2 495.9,348.6 502.2,346.2 519.7,340.6 527.6,330.0 545.0,326.0 569.2,322.0 595.0,316.0 618.8,312.0 645.0,305.0 668.4,299.0 690.0,293.0 708.1,287.5 700.0,298.0 685.0,314.4 668.4,326.0 650.0,333.0 635.3,339.2 600.0,354.9 559.4,359.7 527.6,365.2" fill="#b45050" fill-opacity="0.2"/>
<polygon points="502.2,347.0 522.9,342.2 540.0,338.0 560.0,333.0 580.0,328.0 600.0,322.0 620.0,318.0 645.0,312.0 668.0,305.0 690.0,296.0 700.0,298.0 685.0,314.4 668.4,326.0 650.0,333.0 635.3,339.2 600.0,337.5 560.0,348.0 540.0,356.0 518.1,362.9" fill="#b45050" fill-opacity="0.2"/>
<circle cx="136.6" cy="41.0" r="2.2" fill="#1414ee"/>
<circle cx="141.8" cy="48.7" r="2.2" fill="#1414ee"/>
<circle cx="141.8" cy="56.2" r="2.2" fill="#1414ee"/>
<circle cx="143.4" cy="57.9" r="2.2" fill="#1414ee"/>
<circle cx="146.5" cy="56.7" r="2.2" fill="#1414ee"/>
<circle cx="136.9" cy="66.8" r="2.2" fill="#1414ee"/>
<circle cx="143.8" cy="65.0" r="2.2" fill="#1414ee"/>
<circle cx="143.8" cy="66.5" r="2.2" fill="#1414ee"/>
<circle cx="148.5" cy="62.9" r="2.2" fill="#1414ee"/>
<circle cx="153.4" cy="62.4" r="2.2" fill="#1414ee"/>
<circle cx="155.5" cy="64.4" r="2.2" fill="#1414ee"/>
<circle cx="157.5" cy="63.4" r="2.2" fill="#1414ee"/>
<circle cx="159.3" cy="65.5" r="2.2" fill="#1414ee"/>
<circle cx="161.4" cy="66.2" r="2.2" fill="#1414ee"/>
<circle cx="163.4" cy="60.3" r="2.2" fill="#1414ee"/>
<circle cx="166.0" cy="65.0" r="2.2" fill="#1414ee"/>
<circle cx="154.4" cy="72.7" r="2.2" fill="#1414ee"/>
<circle cx="157.2" cy="72.7" r="2.2" fill="#1414ee"/>
<circle cx="161.7" cy="71.7" r="2.2" fill="#1414ee"/>
<circle cx="149.8" cy="76.8" r="2.2" fill="#1414ee"/>
<circle cx="177.5" cy="70.9" r="2.2" fill="#1414ee"/>
<circle cx="182.3" cy="80.8" r="2.2" fill="#1414ee"/>
<circle cx="197.3" cy="79.5" r="2.2" fill="#1414ee"/>
<circle cx="199.4" cy="73.9" r="2.2" fill="#1414ee"/>
<circle cx="167.2" cy="85.3" r="2.2" fill="#1414ee"/>
<circle cx="160.1" cy="87.8" r="2.2" fill="#1414ee"/>
<circle cx="163.5" cy="91.7" r="2.2" fill="#1414ee"/>
<circle cx="167.9" cy="99.4" r="2.2" fill="#1414ee"/>
<circle cx="193.3" cy="55.4" r="2.2" fill="#1414ee"/>
<circle cx="207.7" cy="83.8" r="2.2" fill="#1414ee"/>
<circle cx="206.8" cy="86.1" r="2.2" fill="#1414ee"/>
<circle cx="206.8" cy="88.2" r="2.2" fill="#1414ee"/>
<circle cx="203.0" cy="94.2" r="2.2" fill="#1414ee"/>
<circle cx="211.0" cy="93.2" r="2.2" fill="#1414ee"/>
<circle cx="218.6" cy="95.9" r="2.2" fill="#1414ee"/>
<circle cx="234.9" cy="87.8" r="2.2" fill="#1414ee"/>
<circle cx="241.0" cy="72.6" r="2.2" fill="#1414ee"/>
<circle cx="258.2" cy="93.3" r="2.2" fill="#1414ee"/>
<circle cx="259.8" cy="86.5" r="2.2" fill="#1414ee"/>
<circle cx="245.6" cy="99.6" r="2.2" fill="#1414ee"/>
<circle cx="260.7" cy="95.5" r="2.2" fill="#1414ee"/>
<circle cx="270.9" cy="85.7" r="2.2" fill="#1414ee"/>
<circle cx="276.1" cy="84.6" r="2.2" fill="#1414ee"/>
<circle cx="271.6" cy="91.7" r="2.2" fill="#1414ee"/>
<circle cx="281.5" cy="91.5" r="2.2" fill="#1414ee"/>
<circle cx="287.6" cy="81.6" r="2.2" fill="#1414ee"/>
<circle cx="289.6" cy="80.8" r="2.2" fill="#1414ee"/>
<circle cx="293.3" cy="93.1" r="2.2" fill="#1414ee"/>
<circle cx="222.9" cy="104.7" r="2.2" fill="#1414ee"/>
<circle cx="182.1" cy="116.2" r="2.2" fill="#f41010"/>
<circle cx="186.3" cy="114.0" r="2.2" fill="#f41010"/>
<circle cx="189.5" cy="116.2" r="2.2" fill="#f41010"/>
<circle cx="192.7" cy="115.6" r="2.2" fill="#f41010"/>
<circle cx="195.9" cy="110.9" r="2.2" fill="#f41010"/>
<circle cx="196.9" cy="114.6" r="2.2" fill="#f41010"/>
<circle cx="199.6" cy="113.0" r="2.2" fill="#f41010"/>
<circle cx="202.2" cy="118.8" r="2.2" fill="#f41010"/>
<circle cx="204.9" cy="111.9" r="2.2" fill="#f41010"/>
<circle cx="205.4" cy="115.6" r="2.2" fill="#f41010"/>
<circle cx="208.6" cy="117.2" r="2.2" fill="#f41010"/>
<circle cx="211.7" cy="118.8" r="2.2" fill="#f41010"/>
<circle cx="213.3" cy="119.3" r="2.2" fill="#f41010"/>
<circle cx="230.3" cy="114.6" r="2.2" fill="#f41010"/>
<circle cx="230.6" cy="117.3" r="2.2" fill="#f41010"/>
<circle cx="230.3" cy="120.4" r="2.2" fill="#f41010"/>
<circle cx="235.9" cy="116.0" r="2.2" fill="#f41010"/>
<circle cx="240.8" cy="116.7" r="2.2" fill="#f41010"/>
<circle cx="243.5" cy="118.3" r="2.2" fill="#f41010"/>
<circle cx="245.6" cy="120.4" r="2.2" fill="#f41010"/>
<circle cx="248.3" cy="118.8" r="2.2" fill="#f41010"/>
<circle cx="250.4" cy="122.0" r="2.2" fill="#f41010"/>
<circle cx="252.0" cy="123.6" r="2.2" fill="#f41010"/>
<circle cx="254.1" cy="127.3" r="2.2" fill="#f41010"/>
<circle cx="253.0" cy="128.3" r="2.2" fill="#f41010"/>
<circle cx="249.8" cy="126.7" r="2.2" fill="#f41010"/>
<circle cx="247.7" cy="124.1" r="2.2" fill="#f41010"/>
<circle cx="243.5" cy="121.5" r="2.2" fill="#f41010"/>
<circle cx="241.4" cy="119.3" r="2.2" fill="#f41010"/>
<circle cx="255.1" cy="126.7" r="2.2" fill="#f41010"/>
<circle cx="136.0" cy="102.5" r="2.2" fill="#f41010"/>
<circle cx="139.2" cy="101.3" r="2.2" fill="#f41010"/>
<circle cx="160.8" cy="101.6" r="2.2" fill="#f41010"/>
<circle cx="166.3" cy="106.5" r="2.2" fill="#f41010"/>
<circle cx="172.7" cy="108.0" r="2.2" fill="#f41010"/>
<circle cx="175.5" cy="107.6" r="2.2" fill="#f41010"/>
<circle cx="180.0" cy="111.5" r="2.2" fill="#f41010"/>
<circle cx="185.0" cy="114.3" r="2.2" fill="#f41010"/>
<circle cx="176.4" cy="118.9" r="2.2" fill="#f41010"/>
<circle cx="173.2" cy="121.6" r="2.2" fill="#f41010"/>
<circle cx="167.2" cy="119.3" r="2.2" fill="#f41010"/>
<circle cx="162.6" cy="120.7" r="2.2" fill="#f41010"/>
<circle cx="156.2" cy="118.4" r="2.2" fill="#f41010"/>
<circle cx="152.5" cy="123.0" r="2.2" fill="#f41010"/>
<circle cx="147.9" cy="118.4" r="2.2" fill="#f41010"/>
<circle cx="152.5" cy="120.5" r="2.2" fill="#f41010"/>
<circle cx="170.0" cy="114.0" r="2.2" fill="#f41010"/>
<circle cx="176.0" cy="113.0" r="2.2" fill="#f41010"/>
<circle cx="165.0" cy="112.0" r="2.2" fill="#f41010"/>
<circle cx="158.0" cy="110.0" r="2.2" fill="#f41010"/>
<circle cx="137.1" cy="102.8" r="2.2" fill="#f41010"/>
<circle cx="139.6" cy="101.5" r="2.2" fill="#f41010"/>
<circle cx="142.8" cy="102.5" r="2.2" fill="#f41010"/>
<circle cx="145.4" cy="103.5" r="2.2" fill="#f41010"/>
<circle cx="138.3" cy="105.1" r="2.2" fill="#f41010"/>
<circle cx="140.9" cy="106.3" r="2.2" fill="#f41010"/>
<circle cx="144.1" cy="107.0" r="2.2" fill="#f41010"/>
<circle cx="146.7" cy="105.7" r="2.2" fill="#f41010"/>
<circle cx="148.6" cy="107.6" r="2.2" fill="#f41010"/>
<circle cx="151.2" cy="107.0" r="2.2" fill="#f41010"/>
<circle cx="153.8" cy="108.3" r="2.2" fill="#f41010"/>
<circle cx="156.3" cy="109.6" r="2.2" fill="#f41010"/>
<circle cx="158.3" cy="105.1" r="2.2" fill="#f41010"/>
<circle cx="160.8" cy="101.5" r="2.2" fill="#f41010"/>
<circle cx="160.8" cy="104.4" r="2.2" fill="#f41010"/>
<circle cx="158.9" cy="107.6" r="2.2" fill="#f41010"/>
<circle cx="160.8" cy="110.2" r="2.2" fill="#f41010"/>
<circle cx="163.4" cy="111.5" r="2.2" fill="#f41010"/>
<circle cx="166.0" cy="107.0" r="2.2" fill="#f41010"/>
<circle cx="165.6" cy="112.8" r="2.2" fill="#f41010"/>
<circle cx="168.5" cy="114.7" r="2.2" fill="#f41010"/>
<circle cx="168.5" cy="117.3" r="2.2" fill="#f41010"/>
<circle cx="162.1" cy="119.8" r="2.2" fill="#f41010"/>
<circle cx="157.0" cy="117.3" r="2.2" fill="#f41010"/>
<circle cx="152.5" cy="119.2" r="2.2" fill="#f41010"/>
<circle cx="152.5" cy="122.4" r="2.2" fill="#f41010"/>
<circle cx="148.6" cy="117.3" r="2.2" fill="#f41010"/>
<circle cx="146.1" cy="114.7" r="2.2" fill="#f41010"/>
<circle cx="144.8" cy="112.1" r="2.2" fill="#f41010"/>
<circle cx="142.8" cy="109.6" r="2.2" fill="#f41010"/>
<circle cx="149.3" cy="110.8" r="2.2" fill="#f41010"/>
<circle cx="152.5" cy="112.1" r="2.2" fill="#f41010"/>
<circle cx="155.7" cy="113.4" r="2.2" fill="#f41010"/>
<circle cx="151.2" cy="114.7" r="2.2" fill="#f41010"/>
<circle cx="147.3" cy="112.8" r="2.2" fill="#f41010"/>
<circle cx="154.4" cy="116.0" r="2.2" fill="#f41010"/>
<circle cx="158.9" cy="113.4" r="2.2" fill="#f41010"/>
<circle cx="162.1" cy="115.3" r="2.2" fill="#f41010"/>
<circle cx="164.0" cy="117.3" r="2.2" fill="#f41010"/>
<circle cx="166.0" cy="118.5" r="2.2" fill="#f41010"/>
<circle cx="172.7" cy="107.8" r="2.2" fill="#f41010"/>
<circle cx="175.5" cy="107.4" r="2.2" fill="#f41010"/>
<circle cx="174.5" cy="111.5" r="2.2" fill="#f41010"/>
<circle cx="178.2" cy="113.3" r="2.2" fill="#f41010"/>
<circle cx="180.0" cy="111.5" r="2.2" fill="#f41010"/>
<circle cx="181.9" cy="115.2" r="2.2" fill="#f41010"/>
<circle cx="185.0" cy="114.3" r="2.2" fill="#f41010"/>
<circle cx="184.6" cy="117.5" r="2.2" fill="#f41010"/>
<circle cx="176.4" cy="118.9" r="2.2" fill="#f41010"/>
<circle cx="173.2" cy="121.6" r="2.2" fill="#f41010"/>
<circle cx="170.9" cy="116.1" r="2.2" fill="#f41010"/>
<circle cx="168.1" cy="113.3" r="2.2" fill="#f41010"/>
<circle cx="167.2" cy="119.3" r="2.2" fill="#f41010"/>
<circle cx="171.0" cy="110.0" r="2.2" fill="#f41010"/>
<circle cx="176.0" cy="115.5" r="2.2" fill="#f41010"/>
<circle cx="179.0" cy="117.0" r="2.2" fill="#f41010"/>
<circle cx="188.0" cy="116.5" r="2.2" fill="#f41010"/>
<circle cx="192.0" cy="113.5" r="2.2" fill="#f41010"/>
<circle cx="194.0" cy="117.0" r="2.2" fill="#f41010"/>
<circle cx="193.4" cy="268.1" r="2.2" fill="#f41010"/>
<circle cx="170.6" cy="269.6" r="2.2" fill="#f41010"/>
<circle cx="177.7" cy="269.6" r="2.2" fill="#f41010"/>
<circle cx="179.5" cy="269.4" r="2.2" fill="#f41010"/>
<circle cx="182.5" cy="269.1" r="2.2" fill="#f41010"/>
<circle cx="184.3" cy="270.2" r="2.2" fill="#f41010"/>
<circle cx="189.7" cy="270.1" r="2.2" fill="#f41010"/>
<circle cx="191.0" cy="268.8" r="2.2" fill="#f41010"/>
<circle cx="193.5" cy="270.0" r="2.2" fill="#f41010"/>
<circle cx="195.9" cy="269.9" r="2.2" fill="#f41010"/>
<circle cx="165.9" cy="272.4" r="2.2" fill="#f41010"/>
<circle cx="168.0" cy="271.6" r="2.2" fill="#f41010"/>
<circle cx="169.8" cy="271.4" r="2.2" fill="#f41010"/>
<circle cx="171.8" cy="271.9" r="2.2" fill="#f41010"/>
<circle cx="174.4" cy="271.1" r="2.2" fill="#f41010"/>
<circle cx="176.2" cy="271.9" r="2.2" fill="#f41010"/>
<circle cx="178.8" cy="271.6" r="2.2" fill="#f41010"/>
<circle cx="181.2" cy="272.2" r="2.2" fill="#f41010"/>
<circle cx="184.4" cy="270.8" r="2.2" fill="#f41010"/>
<circle cx="189.1" cy="272.1" r="2.2" fill="#f41010"/>
<circle cx="190.4" cy="271.1" r="2.2" fill="#f41010"/>
<circle cx="193.2" cy="272.1" r="2.2" fill="#f41010"/>
<circle cx="198.2" cy="271.9" r="2.2" fill="#f41010"/>
<circle cx="207.4" cy="271.1" r="2.2" fill="#f41010"/>
<circle cx="213.4" cy="271.3" r="2.2" fill="#f41010"/>
<circle cx="216.5" cy="271.8" r="2.2" fill="#f41010"/>
<circle cx="161.6" cy="273.8" r="2.2" fill="#f41010"/>
<circle cx="164.7" cy="273.4" r="2.2" fill="#f41010"/>
<circle cx="168.1" cy="273.2" r="2.2" fill="#f41010"/>
<circle cx="171.7" cy="273.7" r="2.2" fill="#f41010"/>
<circle cx="174.1" cy="273.5" r="2.2" fill="#f41010"/>
<circle cx="175.3" cy="274.1" r="2.2" fill="#f41010"/>
<circle cx="180.6" cy="273.0" r="2.2" fill="#f41010"/>
<circle cx="182.0" cy="274.2" r="2.2" fill="#f41010"/>
<circle cx="184.2" cy="273.2" r="2.2" fill="#f41010"/>
<circle cx="188.9" cy="273.1" r="2.2" fill="#f41010"/>
<circle cx="191.4" cy="274.0" r="2.2" fill="#f41010"/>
<circle cx="193.5" cy="274.3" r="2.2" fill="#f41010"/>
<circle cx="196.2" cy="274.4" r="2.2" fill="#f41010"/>
<circle cx="199.4" cy="273.3" r="2.2" fill="#f41010"/>
<circle cx="202.7" cy="273.8" r="2.2" fill="#f41010"/>
<circle cx="204.9" cy="272.8" r="2.2" fill="#f41010"/>
<circle cx="208.7" cy="273.3" r="2.2" fill="#f41010"/>
<circle cx="210.4" cy="273.5" r="2.2" fill="#f41010"/>
<circle cx="212.2" cy="272.9" r="2.2" fill="#f41010"/>
<circle cx="215.5" cy="274.4" r="2.2" fill="#f41010"/>
<circle cx="217.9" cy="273.0" r="2.2" fill="#f41010"/>
<circle cx="218.9" cy="273.8" r="2.2" fill="#f41010"/>
<circle cx="160.4" cy="275.2" r="2.2" fill="#f41010"/>
<circle cx="162.4" cy="275.3" r="2.2" fill="#f41010"/>
<circle cx="166.1" cy="275.5" r="2.2" fill="#f41010"/>
<circle cx="167.9" cy="275.8" r="2.2" fill="#f41010"/>
<circle cx="170.7" cy="275.4" r="2.2" fill="#f41010"/>
<circle cx="171.9" cy="275.3" r="2.2" fill="#f41010"/>
<circle cx="174.3" cy="276.2" r="2.2" fill="#f41010"/>
<circle cx="177.5" cy="275.3" r="2.2" fill="#f41010"/>
<circle cx="178.9" cy="275.7" r="2.2" fill="#f41010"/>
<circle cx="181.6" cy="275.8" r="2.2" fill="#f41010"/>
<circle cx="183.3" cy="274.8" r="2.2" fill="#f41010"/>
<circle cx="185.6" cy="274.9" r="2.2" fill="#f41010"/>
<circle cx="188.4" cy="274.9" r="2.2" fill="#f41010"/>
<circle cx="190.0" cy="275.8" r="2.2" fill="#f41010"/>
<circle cx="195.2" cy="276.2" r="2.2" fill="#f41010"/>
<circle cx="197.0" cy="275.6" r="2.2" fill="#f41010"/>
<circle cx="202.9" cy="275.1" r="2.2" fill="#f41010"/>
<circle cx="204.9" cy="276.4" r="2.2" fill="#f41010"/>
<circle cx="207.3" cy="275.3" r="2.2" fill="#f41010"/>
<circle cx="212.0" cy="275.3" r="2.2" fill="#f41010"/>
<circle cx="214.3" cy="275.0" r="2.2" fill="#f41010"/>
<circle cx="216.6" cy="274.9" r="2.2" fill="#f41010"/>
<circle cx="159.5" cy="277.1" r="2.2" fill="#f41010"/>
<circle cx="162.2" cy="277.9" r="2.2" fill="#f41010"/>
<circle cx="163.8" cy="276.9" r="2.2" fill="#f41010"/>
<circle cx="167.2" cy="278.1" r="2.2" fill="#f41010"/>
<circle cx="168.9" cy="277.7" r="2.2" fill="#f41010"/>
<circle cx="171.7" cy="277.5" r="2.2" fill="#f41010"/>
<circle cx="173.2" cy="277.3" r="2.2" fill="#f41010"/>
<circle cx="178.2" cy="277.5" r="2.2" fill="#f41010"/>
<circle cx="180.4" cy="276.9" r="2.2" fill="#f41010"/>
<circle cx="182.4" cy="277.0" r="2.2" fill="#f41010"/>
<circle cx="184.3" cy="277.2" r="2.2" fill="#f41010"/>
<circle cx="187.7" cy="277.4" r="2.2" fill="#f41010"/>
<circle cx="189.3" cy="277.8" r="2.2" fill="#f41010"/>
<circle cx="191.4" cy="276.8" r="2.2" fill="#f41010"/>
<circle cx="194.1" cy="277.6" r="2.2" fill="#f41010"/>
<circle cx="196.6" cy="277.5" r="2.2" fill="#f41010"/>
<circle cx="199.0" cy="278.0" r="2.2" fill="#f41010"/>
<circle cx="200.6" cy="277.6" r="2.2" fill="#f41010"/>
<circle cx="205.5" cy="277.7" r="2.2" fill="#f41010"/>
<circle cx="209.8" cy="277.8" r="2.2" fill="#f41010"/>
<circle cx="211.8" cy="276.9" r="2.2" fill="#f41010"/>
<circle cx="214.8" cy="278.2" r="2.2" fill="#f41010"/>
<circle cx="216.6" cy="278.0" r="2.2" fill="#f41010"/>
<circle cx="161.3" cy="280.2" r="2.2" fill="#f41010"/>
<circle cx="163.8" cy="279.7" r="2.2" fill="#f41010"/>
<circle cx="167.2" cy="279.7" r="2.2" fill="#f41010"/>
<circle cx="170.4" cy="278.9" r="2.2" fill="#f41010"/>
<circle cx="172.5" cy="280.0" r="2.2" fill="#f41010"/>
<circle cx="174.3" cy="279.6" r="2.2" fill="#f41010"/>
<circle cx="176.3" cy="280.0" r="2.2" fill="#f41010"/>
<circle cx="181.9" cy="279.8" r="2.2" fill="#f41010"/>
<circle cx="183.4" cy="280.3" r="2.2" fill="#f41010"/>
<circle cx="188.8" cy="280.2" r="2.2" fill="#f41010"/>
<circle cx="190.9" cy="279.9" r="2.2" fill="#f41010"/>
<circle cx="196.0" cy="279.4" r="2.2" fill="#f41010"/>
<circle cx="198.0" cy="279.5" r="2.2" fill="#f41010"/>
<circle cx="199.3" cy="279.3" r="2.2" fill="#f41010"/>
<circle cx="201.6" cy="280.3" r="2.2" fill="#f41010"/>
<circle cx="208.4" cy="279.3" r="2.2" fill="#f41010"/>
<circle cx="215.9" cy="278.8" r="2.2" fill="#f41010"/>
<circle cx="218.5" cy="279.8" r="2.2" fill="#f41010"/>
<circle cx="169.2" cy="281.7" r="2.2" fill="#f41010"/>
<circle cx="170.9" cy="281.3" r="2.2" fill="#f41010"/>
<circle cx="172.8" cy="282.1" r="2.2" fill="#f41010"/>
<circle cx="175.1" cy="282.0" r="2.2" fill="#f41010"/>
<circle cx="185.0" cy="281.3" r="2.2" fill="#f41010"/>
<circle cx="187.2" cy="281.4" r="2.2" fill="#f41010"/>
<circle cx="189.5" cy="280.8" r="2.2" fill="#f41010"/>
<circle cx="191.7" cy="281.5" r="2.2" fill="#f41010"/>
<circle cx="193.8" cy="281.4" r="2.2" fill="#f41010"/>
<circle cx="196.9" cy="281.9" r="2.2" fill="#f41010"/>
<circle cx="198.7" cy="281.8" r="2.2" fill="#f41010"/>
<circle cx="200.8" cy="281.1" r="2.2" fill="#f41010"/>
<circle cx="202.5" cy="281.3" r="2.2" fill="#f41010"/>
<circle cx="205.8" cy="282.2" r="2.2" fill="#f41010"/>
<circle cx="208.4" cy="281.6" r="2.2" fill="#f41010"/>
<circle cx="211.0" cy="281.5" r="2.2" fill="#f41010"/>
<circle cx="216.8" cy="281.1" r="2.2" fill="#f41010"/>
<circle cx="172.5" cy="283.8" r="2.2" fill="#f41010"/>
<circle cx="190.6" cy="282.9" r="2.2" fill="#f41010"/>
<circle cx="195.1" cy="283.4" r="2.2" fill="#f41010"/>
<circle cx="197.8" cy="282.8" r="2.2" fill="#f41010"/>
<circle cx="199.9" cy="284.3" r="2.2" fill="#f41010"/>
<circle cx="202.5" cy="283.5" r="2.2" fill="#f41010"/>
<circle cx="204.8" cy="283.8" r="2.2" fill="#f41010"/>
<circle cx="206.3" cy="283.1" r="2.2" fill="#f41010"/>
<circle cx="207.4" cy="284.9" r="2.2" fill="#f41010"/>
<circle cx="243.4" cy="274.0" r="2.2" fill="#f41010"/>
<circle cx="243.4" cy="276.7" r="2.2" fill="#f41010"/>
<circle cx="251.3" cy="275.6" r="2.2" fill="#f41010"/>
<circle cx="252.9" cy="276.2" r="2.2" fill="#f41010"/>
<circle cx="205.3" cy="268.8" r="2.2" fill="#f41010"/>
<circle cx="214.8" cy="267.7" r="2.2" fill="#f41010"/>
<circle cx="220.6" cy="272.5" r="2.2" fill="#f41010"/>
<circle cx="222.2" cy="276.2" r="2.2" fill="#f41010"/>
<circle cx="218.5" cy="282.5" r="2.2" fill="#f41010"/>
<circle cx="208.5" cy="289.9" r="2.2" fill="#f41010"/>
<circle cx="168.3" cy="267.5" r="2.2" fill="#f41010"/>
<circle cx="193.7" cy="266.0" r="2.2" fill="#f41010"/>
<circle cx="156.0" cy="279.0" r="2.2" fill="#f41010"/>
<circle cx="158.0" cy="274.0" r="2.2" fill="#f41010"/>
<circle cx="165.8" cy="347.1" r="2.2" fill="#f41010"/>
<circle cx="167.0" cy="349.5" r="2.2" fill="#f41010"/>
<circle cx="167.0" cy="354.3" r="2.2" fill="#f41010"/>
<circle cx="170.0" cy="354.3" r="2.2" fill="#f41010"/>
<circle cx="173.0" cy="356.7" r="2.2" fill="#f41010"/>
<circle cx="174.8" cy="351.9" r="2.2" fill="#f41010"/>
<circle cx="177.1" cy="355.5" r="2.2" fill="#f41010"/>
<circle cx="180.7" cy="353.1" r="2.2" fill="#f41010"/>
<circle cx="180.7" cy="357.3" r="2.2" fill="#f41010"/>
<circle cx="184.3" cy="354.3" r="2.2" fill="#f41010"/>
<circle cx="186.7" cy="358.5" r="2.2" fill="#f41010"/>
<circle cx="187.3" cy="352.5" r="2.2" fill="#f41010"/>
<circle cx="192.6" cy="351.3" r="2.2" fill="#f41010"/>
<circle cx="192.0" cy="356.7" r="2.2" fill="#f41010"/>
<circle cx="192.6" cy="360.8" r="2.2" fill="#f41010"/>
<circle cx="195.0" cy="359.6" r="2.2" fill="#f41010"/>
<circle cx="197.4" cy="360.8" r="2.2" fill="#f41010"/>
<circle cx="199.8" cy="361.4" r="2.2" fill="#f41010"/>
<circle cx="202.1" cy="359.6" r="2.2" fill="#f41010"/>
<circle cx="204.5" cy="360.8" r="2.2" fill="#f41010"/>
<circle cx="206.9" cy="364.4" r="2.2" fill="#f41010"/>
<circle cx="207.5" cy="352.5" r="2.2" fill="#f41010"/>
<circle cx="209.3" cy="356.1" r="2.2" fill="#f41010"/>
<circle cx="211.7" cy="351.9" r="2.2" fill="#f41010"/>
<circle cx="213.5" cy="357.3" r="2.2" fill="#f41010"/>
<circle cx="214.6" cy="349.5" r="2.2" fill="#f41010"/>
<circle cx="212.3" cy="360.2" r="2.2" fill="#f41010"/>
<circle cx="218.8" cy="359.0" r="2.2" fill="#f41010"/>
<circle cx="221.2" cy="359.0" r="2.2" fill="#f41010"/>
<circle cx="226.0" cy="352.5" r="2.2" fill="#f41010"/>
<circle cx="226.5" cy="357.3" r="2.2" fill="#f41010"/>
<circle cx="231.3" cy="360.2" r="2.2" fill="#f41010"/>
<circle cx="232.5" cy="360.8" r="2.2" fill="#f41010"/>
<circle cx="169.0" cy="351.0" r="2.2" fill="#f41010"/>
<circle cx="172.0" cy="353.0" r="2.2" fill="#f41010"/>
<circle cx="176.0" cy="354.0" r="2.2" fill="#f41010"/>
<circle cx="178.0" cy="357.0" r="2.2" fill="#f41010"/>
<circle cx="183.0" cy="356.0" r="2.2" fill="#f41010"/>
<circle cx="189.0" cy="355.0" r="2.2" fill="#f41010"/>
<circle cx="171.0" cy="357.0" r="2.2" fill="#f41010"/>
<circle cx="175.0" cy="358.0" r="2.2" fill="#f41010"/>
<circle cx="226.3" cy="352.9" r="2.2" fill="#f41010"/>
<circle cx="226.3" cy="357.5" r="2.2" fill="#f41010"/>
<circle cx="231.6" cy="359.5" r="2.2" fill="#f41010"/>
<circle cx="239.6" cy="357.5" r="2.2" fill="#f41010"/>
<circle cx="242.9" cy="356.2" r="2.2" fill="#f41010"/>
<circle cx="244.8" cy="349.6" r="2.2" fill="#f41010"/>
<circle cx="246.8" cy="350.2" r="2.2" fill="#f41010"/>
<circle cx="251.5" cy="348.2" r="2.2" fill="#f41010"/>
<circle cx="253.4" cy="347.6" r="2.2" fill="#f41010"/>
<circle cx="252.8" cy="350.2" r="2.2" fill="#f41010"/>
<circle cx="253.4" cy="353.5" r="2.2" fill="#f41010"/>
<circle cx="257.4" cy="354.2" r="2.2" fill="#f41010"/>
<circle cx="248.8" cy="365.4" r="2.2" fill="#f41010"/>
<circle cx="264.7" cy="356.2" r="2.2" fill="#f41010"/>
<circle cx="267.3" cy="353.5" r="2.2" fill="#f41010"/>
<circle cx="211.0" cy="354.0" r="2.2" fill="#f41010"/>
<circle cx="213.0" cy="355.0" r="2.2" fill="#f41010"/>
<circle cx="271.3" cy="356.2" r="2.2" fill="#f41010"/>
<circle cx="273.9" cy="353.5" r="2.2" fill="#f41010"/>
<circle cx="275.3" cy="360.1" r="2.2" fill="#f41010"/>
<circle cx="277.9" cy="352.2" r="2.2" fill="#f41010"/>
<circle cx="277.9" cy="361.5" r="2.2" fill="#f41010"/>
<circle cx="280.6" cy="356.2" r="2.2" fill="#f41010"/>
<circle cx="283.2" cy="353.5" r="2.2" fill="#f41010"/>
<circle cx="283.9" cy="360.1" r="2.2" fill="#f41010"/>
<circle cx="285.2" cy="352.2" r="2.2" fill="#f41010"/>
<circle cx="287.2" cy="356.8" r="2.2" fill="#f41010"/>
<circle cx="289.8" cy="355.5" r="2.2" fill="#f41010"/>
<circle cx="291.8" cy="358.8" r="2.2" fill="#f41010"/>
<circle cx="292.5" cy="351.5" r="2.2" fill="#f41010"/>
<circle cx="295.1" cy="353.5" r="2.2" fill="#f41010"/>
<circle cx="297.8" cy="354.8" r="2.2" fill="#f41010"/>
<circle cx="277.2" cy="356.8" r="2.2" fill="#f41010"/>
<circle cx="272.6" cy="358.1" r="2.2" fill="#f41010"/>
<circle cx="281.9" cy="362.1" r="2.2" fill="#f41010"/>
<circle cx="285.2" cy="361.5" r="2.2" fill="#f41010"/>
<circle cx="279.0" cy="358.5" r="2.2" fill="#f41010"/>
<circle cx="275.0" cy="355.0" r="2.2" fill="#f41010"/>
<circle cx="282.0" cy="358.0" r="2.2" fill="#f41010"/>
<circle cx="286.0" cy="358.5" r="2.2" fill="#f41010"/>
<circle cx="288.0" cy="353.0" r="2.2" fill="#f41010"/>
<circle cx="280.0" cy="353.5" r="2.2" fill="#f41010"/>
<circle cx="274.0" cy="360.5" r="2.2" fill="#f41010"/>
<circle cx="289.0" cy="358.0" r="2.2" fill="#f41010"/>
<circle cx="293.0" cy="356.0" r="2.2" fill="#f41010"/>
<circle cx="163.5" cy="271.4" r="2.2" fill="#1414ee"/>
<circle cx="185.7" cy="283.6" r="2.2" fill="#1414ee"/>
<circle cx="179.5" cy="346.9" r="2.2" fill="#1414ee"/>
<circle cx="165.8" cy="351.9" r="2.2" fill="#1414ee"/>
<circle cx="187.3" cy="350.5" r="2.2" fill="#1414ee"/>
<circle cx="189.6" cy="350.1" r="2.2" fill="#1414ee"/>
<circle cx="195.6" cy="353.1" r="2.2" fill="#1414ee"/>
<circle cx="201.5" cy="352.5" r="2.2" fill="#1414ee"/>
<circle cx="671.7" cy="59.7" r="2.2" fill="#f41010"/>
<circle cx="661.6" cy="64.3" r="2.2" fill="#f41010"/>
<circle cx="664.4" cy="63.8" r="2.2" fill="#f41010"/>
<circle cx="669.9" cy="64.8" r="2.2" fill="#f41010"/>
<circle cx="671.3" cy="68.2" r="2.2" fill="#f41010"/>
<circle cx="670.6" cy="72.3" r="2.2" fill="#f41010"/>
<circle cx="666.5" cy="74.4" r="2.2" fill="#f41010"/>
<circle cx="660.3" cy="75.1" r="2.2" fill="#f41010"/>
<circle cx="660.9" cy="77.1" r="2.2" fill="#f41010"/>
<circle cx="689.4" cy="87.8" r="2.2" fill="#f41010"/>
<circle cx="616.4" cy="104.2" r="2.2" fill="#f41010"/>
<circle cx="620.4" cy="102.6" r="2.2" fill="#f41010"/>
<circle cx="629.3" cy="110.6" r="2.2" fill="#f41010"/>
<circle cx="635.7" cy="112.2" r="2.2" fill="#f41010"/>
<circle cx="640.5" cy="105.8" r="2.2" fill="#f41010"/>
<circle cx="651.0" cy="111.4" r="2.2" fill="#f41010"/>
<circle cx="654.2" cy="107.4" r="2.2" fill="#f41010"/>
<circle cx="644.5" cy="94.5" r="2.2" fill="#f41010"/>
<circle cx="610.0" cy="106.6" r="2.2" fill="#f41010"/>
<circle cx="588.4" cy="130.3" r="2.2" fill="#f41010"/>
<circle cx="587.1" cy="127.2" r="2.2" fill="#f41010"/>
<circle cx="588.4" cy="125.3" r="2.2" fill="#f41010"/>
<circle cx="590.3" cy="123.4" r="2.2" fill="#f41010"/>
<circle cx="592.2" cy="122.1" r="2.2" fill="#f41010"/>
<circle cx="590.9" cy="127.2" r="2.2" fill="#f41010"/>
<circle cx="593.4" cy="119.6" r="2.2" fill="#f41010"/>
<circle cx="594.1" cy="117.1" r="2.2" fill="#f41010"/>
<circle cx="596.0" cy="115.2" r="2.2" fill="#f41010"/>
<circle cx="597.2" cy="110.8" r="2.2" fill="#f41010"/>
<circle cx="599.1" cy="112.0" r="2.2" fill="#f41010"/>
<circle cx="597.9" cy="113.3" r="2.2" fill="#f41010"/>
<circle cx="590.9" cy="112.7" r="2.2" fill="#f41010"/>
<circle cx="604.2" cy="109.5" r="2.2" fill="#f41010"/>
<circle cx="606.1" cy="110.8" r="2.2" fill="#f41010"/>
<circle cx="608.0" cy="106.4" r="2.2" fill="#f41010"/>
<circle cx="609.8" cy="105.1" r="2.2" fill="#f41010"/>
<circle cx="609.8" cy="107.6" r="2.2" fill="#f41010"/>
<circle cx="608.6" cy="104.5" r="2.2" fill="#f41010"/>
<circle cx="616.2" cy="104.5" r="2.2" fill="#f41010"/>
<circle cx="621.2" cy="102.8" r="2.2" fill="#f41010"/>
<circle cx="629.1" cy="110.4" r="2.2" fill="#f41010"/>
<circle cx="636.1" cy="112.0" r="2.2" fill="#f41010"/>
<circle cx="574.3" cy="116.2" r="2.2" fill="#f41010"/>
<circle cx="566.9" cy="131.3" r="2.2" fill="#f41010"/>
<circle cx="589.5" cy="124.0" r="2.2" fill="#f41010"/>
<circle cx="591.5" cy="120.5" r="2.2" fill="#f41010"/>
<circle cx="595.0" cy="118.5" r="2.2" fill="#f41010"/>
<circle cx="598.0" cy="116.0" r="2.2" fill="#f41010"/>
<circle cx="589.0" cy="128.5" r="2.2" fill="#f41010"/>
<circle cx="692.0" cy="50.4" r="2.2" fill="#f41010"/>
<circle cx="693.3" cy="52.3" r="2.2" fill="#f41010"/>
<circle cx="687.6" cy="54.4" r="2.2" fill="#f41010"/>
<circle cx="690.1" cy="54.1" r="2.2" fill="#f41010"/>
<circle cx="693.0" cy="54.5" r="2.2" fill="#f41010"/>
<circle cx="694.9" cy="53.6" r="2.2" fill="#f41010"/>
<circle cx="688.2" cy="56.5" r="2.2" fill="#f41010"/>
<circle cx="690.8" cy="56.6" r="2.2" fill="#f41010"/>
<circle cx="694.1" cy="56.5" r="2.2" fill="#f41010"/>
<circle cx="695.2" cy="57.1" r="2.2" fill="#f41010"/>
<circle cx="687.4" cy="57.9" r="2.2" fill="#f41010"/>
<circle cx="690.4" cy="59.1" r="2.2" fill="#f41010"/>
<circle cx="694.6" cy="58.7" r="2.2" fill="#f41010"/>
<circle cx="686.4" cy="60.5" r="2.2" fill="#f41010"/>
<circle cx="689.2" cy="60.9" r="2.2" fill="#f41010"/>
<circle cx="690.7" cy="60.4" r="2.2" fill="#f41010"/>
<circle cx="693.7" cy="60.6" r="2.2" fill="#f41010"/>
<circle cx="659.3" cy="62.3" r="2.2" fill="#f41010"/>
<circle cx="685.9" cy="62.1" r="2.2" fill="#f41010"/>
<circle cx="687.7" cy="62.6" r="2.2" fill="#f41010"/>
<circle cx="689.9" cy="63.1" r="2.2" fill="#f41010"/>
<circle cx="695.1" cy="62.9" r="2.2" fill="#f41010"/>
<circle cx="657.8" cy="64.7" r="2.2" fill="#f41010"/>
<circle cx="660.8" cy="64.3" r="2.2" fill="#f41010"/>
<circle cx="661.6" cy="65.4" r="2.2" fill="#f41010"/>
<circle cx="686.5" cy="65.3" r="2.2" fill="#f41010"/>
<circle cx="689.2" cy="64.9" r="2.2" fill="#f41010"/>
<circle cx="693.0" cy="64.3" r="2.2" fill="#f41010"/>
<circle cx="695.8" cy="64.4" r="2.2" fill="#f41010"/>
<circle cx="658.7" cy="67.4" r="2.2" fill="#f41010"/>
<circle cx="663.4" cy="66.3" r="2.2" fill="#f41010"/>
<circle cx="685.0" cy="67.3" r="2.2" fill="#f41010"/>
<circle cx="687.2" cy="67.1" r="2.2" fill="#f41010"/>
<circle cx="689.8" cy="66.8" r="2.2" fill="#f41010"/>
<circle cx="694.3" cy="66.7" r="2.2" fill="#f41010"/>
<circle cx="657.3" cy="69.4" r="2.2" fill="#f41010"/>
<circle cx="660.7" cy="69.1" r="2.2" fill="#f41010"/>
<circle cx="661.8" cy="69.4" r="2.2" fill="#f41010"/>
<circle cx="665.0" cy="68.5" r="2.2" fill="#f41010"/>
<circle cx="686.4" cy="69.1" r="2.2" fill="#f41010"/>
<circle cx="688.4" cy="69.1" r="2.2" fill="#f41010"/>
<circle cx="691.5" cy="69.6" r="2.2" fill="#f41010"/>
<circle cx="693.6" cy="69.4" r="2.2" fill="#f41010"/>
<circle cx="658.3" cy="71.5" r="2.2" fill="#f41010"/>
<circle cx="661.3" cy="71.6" r="2.2" fill="#f41010"/>
<circle cx="664.3" cy="70.3" r="2.2" fill="#f41010"/>
<circle cx="687.1" cy="70.4" r="2.2" fill="#f41010"/>
<circle cx="691.7" cy="71.0" r="2.2" fill="#f41010"/>
<circle cx="695.6" cy="71.5" r="2.2" fill="#f41010"/>
<circle cx="658.3" cy="73.1" r="2.2" fill="#f41010"/>
<circle cx="660.7" cy="73.0" r="2.2" fill="#f41010"/>
<circle cx="662.3" cy="73.2" r="2.2" fill="#f41010"/>
<circle cx="664.5" cy="72.5" r="2.2" fill="#f41010"/>
<circle cx="667.3" cy="73.6" r="2.2" fill="#f41010"/>
<circle cx="683.7" cy="72.8" r="2.2" fill="#f41010"/>
<circle cx="686.5" cy="73.3" r="2.2" fill="#f41010"/>
<circle cx="688.9" cy="73.0" r="2.2" fill="#f41010"/>
<circle cx="691.4" cy="73.6" r="2.2" fill="#f41010"/>
<circle cx="693.5" cy="73.1" r="2.2" fill="#f41010"/>
<circle cx="656.1" cy="75.2" r="2.2" fill="#f41010"/>
<circle cx="659.3" cy="75.9" r="2.2" fill="#f41010"/>
<circle cx="661.8" cy="75.3" r="2.2" fill="#f41010"/>
<circle cx="662.9" cy="74.4" r="2.2" fill="#f41010"/>
<circle cx="666.2" cy="75.7" r="2.2" fill="#f41010"/>
<circle cx="668.0" cy="75.9" r="2.2" fill="#f41010"/>
<circle cx="684.8" cy="75.1" r="2.2" fill="#f41010"/>
<circle cx="688.0" cy="74.8" r="2.2" fill="#f41010"/>
<circle cx="658.2" cy="76.5" r="2.2" fill="#f41010"/>
<circle cx="663.0" cy="77.1" r="2.2" fill="#f41010"/>
<circle cx="665.6" cy="76.7" r="2.2" fill="#f41010"/>
<circle cx="666.6" cy="76.6" r="2.2" fill="#f41010"/>
<circle cx="669.7" cy="76.6" r="2.2" fill="#f41010"/>
<circle cx="688.0" cy="77.7" r="2.2" fill="#f41010"/>
<circle cx="690.5" cy="77.7" r="2.2" fill="#f41010"/>
<circle cx="656.7" cy="79.0" r="2.2" fill="#f41010"/>
<circle cx="659.5" cy="79.2" r="2.2" fill="#f41010"/>
<circle cx="662.8" cy="78.7" r="2.2" fill="#f41010"/>
<circle cx="666.2" cy="79.6" r="2.2" fill="#f41010"/>
<circle cx="669.1" cy="79.2" r="2.2" fill="#f41010"/>
<circle cx="671.1" cy="79.1" r="2.2" fill="#f41010"/>
<circle cx="672.5" cy="79.2" r="2.2" fill="#f41010"/>
<circle cx="675.9" cy="79.8" r="2.2" fill="#f41010"/>
<circle cx="678.7" cy="79.9" r="2.2" fill="#f41010"/>
<circle cx="682.8" cy="79.3" r="2.2" fill="#f41010"/>
<circle cx="685.5" cy="79.4" r="2.2" fill="#f41010"/>
<circle cx="688.2" cy="79.2" r="2.2" fill="#f41010"/>
<circle cx="690.0" cy="79.9" r="2.2" fill="#f41010"/>
<circle cx="692.7" cy="79.4" r="2.2" fill="#f41010"/>
<circle cx="655.8" cy="81.0" r="2.2" fill="#f41010"/>
<circle cx="657.5" cy="81.7" r="2.2" fill="#f41010"/>
<circle cx="662.6" cy="81.2" r="2.2" fill="#f41010"/>
<circle cx="664.7" cy="81.6" r="2.2" fill="#f41010"/>
<circle cx="667.0" cy="81.9" r="2.2" fill="#f41010"/>
<circle cx="668.8" cy="81.8" r="2.2" fill="#f41010"/>
<circle cx="672.4" cy="81.1" r="2.2" fill="#f41010"/>
<circle cx="673.6" cy="81.1" r="2.2" fill="#f41010"/>
<circle cx="676.9" cy="81.9" r="2.2" fill="#f41010"/>
<circle cx="679.8" cy="80.9" r="2.2" fill="#f41010"/>
<circle cx="680.9" cy="80.8" r="2.2" fill="#f41010"/>
<circle cx="684.8" cy="81.6" r="2.2" fill="#f41010"/>
<circle cx="685.8" cy="81.7" r="2.2" fill="#f41010"/>
<circle cx="689.5" cy="81.6" r="2.2" fill="#f41010"/>
<circle cx="690.8" cy="82.1" r="2.2" fill="#f41010"/>
<circle cx="693.9" cy="80.9" r="2.2" fill="#f41010"/>
<circle cx="658.3" cy="84.2" r="2.2" fill="#f41010"/>
<circle cx="661.4" cy="83.7" r="2.2" fill="#f41010"/>
<circle cx="663.8" cy="83.1" r="2.2" fill="#f41010"/>
<circle cx="665.8" cy="83.0" r="2.2" fill="#f41010"/>
<circle cx="667.8" cy="84.3" r="2.2" fill="#f41010"/>
<circle cx="671.2" cy="84.1" r="2.2" fill="#f41010"/>
<circle cx="672.4" cy="83.8" r="2.2" fill="#f41010"/>
<circle cx="675.3" cy="83.5" r="2.2" fill="#f41010"/>
<circle cx="680.2" cy="83.6" r="2.2" fill="#f41010"/>
<circle cx="684.9" cy="83.7" r="2.2" fill="#f41010"/>
<circle cx="687.7" cy="83.2" r="2.2" fill="#f41010"/>
<circle cx="690.1" cy="83.1" r="2.2" fill="#f41010"/>
<circle cx="691.6" cy="83.2" r="2.2" fill="#f41010"/>
<circle cx="655.0" cy="85.2" r="2.2" fill="#f41010"/>
<circle cx="660.0" cy="85.0" r="2.2" fill="#f41010"/>
<circle cx="663.1" cy="86.3" r="2.2" fill="#f41010"/>
<circle cx="664.1" cy="84.8" r="2.2" fill="#f41010"/>
<circle cx="666.5" cy="86.0" r="2.2" fill="#f41010"/>
<circle cx="671.2" cy="85.6" r="2.2" fill="#f41010"/>
<circle cx="676.0" cy="85.1" r="2.2" fill="#f41010"/>
<circle cx="678.7" cy="85.3" r="2.2" fill="#f41010"/>
<circle cx="687.0" cy="85.2" r="2.2" fill="#f41010"/>
<circle cx="688.9" cy="85.5" r="2.2" fill="#f41010"/>
<circle cx="655.8" cy="88.2" r="2.2" fill="#f41010"/>
<circle cx="660.9" cy="87.4" r="2.2" fill="#f41010"/>
<circle cx="663.7" cy="87.6" r="2.2" fill="#f41010"/>
<circle cx="666.5" cy="87.9" r="2.2" fill="#f41010"/>
<circle cx="667.8" cy="87.2" r="2.2" fill="#f41010"/>
<circle cx="673.9" cy="88.2" r="2.2" fill="#f41010"/>
<circle cx="675.2" cy="87.3" r="2.2" fill="#f41010"/>
<circle cx="677.6" cy="87.5" r="2.2" fill="#f41010"/>
<circle cx="682.4" cy="87.2" r="2.2" fill="#f41010"/>
<circle cx="685.0" cy="87.6" r="2.2" fill="#f41010"/>
<circle cx="688.2" cy="87.9" r="2.2" fill="#f41010"/>
<circle cx="655.8" cy="89.8" r="2.2" fill="#f41010"/>
<circle cx="658.3" cy="90.4" r="2.2" fill="#f41010"/>
<circle cx="664.6" cy="89.7" r="2.2" fill="#f41010"/>
<circle cx="666.4" cy="89.2" r="2.2" fill="#f41010"/>
<circle cx="669.1" cy="89.9" r="2.2" fill="#f41010"/>
<circle cx="672.6" cy="90.1" r="2.2" fill="#f41010"/>
<circle cx="673.8" cy="89.7" r="2.2" fill="#f41010"/>
<circle cx="677.0" cy="89.2" r="2.2" fill="#f41010"/>
<circle cx="681.2" cy="90.0" r="2.2" fill="#f41010"/>
<circle cx="686.1" cy="89.6" r="2.2" fill="#f41010"/>
<circle cx="657.0" cy="92.4" r="2.2" fill="#f41010"/>
<circle cx="659.3" cy="92.1" r="2.2" fill="#f41010"/>
<circle cx="661.5" cy="91.6" r="2.2" fill="#f41010"/>
<circle cx="663.0" cy="92.6" r="2.2" fill="#f41010"/>
<circle cx="665.3" cy="91.5" r="2.2" fill="#f41010"/>
<circle cx="668.6" cy="92.6" r="2.2" fill="#f41010"/>
<circle cx="670.3" cy="91.4" r="2.2" fill="#f41010"/>
<circle cx="673.8" cy="91.6" r="2.2" fill="#f41010"/>
<circle cx="675.4" cy="91.6" r="2.2" fill="#f41010"/>
<circle cx="677.3" cy="92.6" r="2.2" fill="#f41010"/>
<circle cx="682.2" cy="91.3" r="2.2" fill="#f41010"/>
<circle cx="652.8" cy="93.7" r="2.2" fill="#f41010"/>
<circle cx="655.1" cy="93.3" r="2.2" fill="#f41010"/>
<circle cx="657.1" cy="94.4" r="2.2" fill="#f41010"/>
<circle cx="659.4" cy="93.5" r="2.2" fill="#f41010"/>
<circle cx="664.1" cy="93.7" r="2.2" fill="#f41010"/>
<circle cx="667.4" cy="94.2" r="2.2" fill="#f41010"/>
<circle cx="670.2" cy="93.3" r="2.2" fill="#f41010"/>
<circle cx="672.2" cy="93.5" r="2.2" fill="#f41010"/>
<circle cx="674.1" cy="94.1" r="2.2" fill="#f41010"/>
<circle cx="677.3" cy="94.2" r="2.2" fill="#f41010"/>
<circle cx="680.0" cy="93.2" r="2.2" fill="#f41010"/>
<circle cx="681.3" cy="93.9" r="2.2" fill="#f41010"/>
<circle cx="651.5" cy="95.3" r="2.2" fill="#f41010"/>
<circle cx="657.0" cy="95.3" r="2.2" fill="#f41010"/>
<circle cx="658.3" cy="95.7" r="2.2" fill="#f41010"/>
<circle cx="660.9" cy="96.6" r="2.2" fill="#f41010"/>
<circle cx="663.2" cy="95.7" r="2.2" fill="#f41010"/>
<circle cx="666.0" cy="96.7" r="2.2" fill="#f41010"/>
<circle cx="673.9" cy="95.6" r="2.2" fill="#f41010"/>
<circle cx="675.4" cy="96.3" r="2.2" fill="#f41010"/>
<circle cx="649.7" cy="98.1" r="2.2" fill="#f41010"/>
<circle cx="652.9" cy="98.4" r="2.2" fill="#f41010"/>
<circle cx="655.9" cy="98.6" r="2.2" fill="#f41010"/>
<circle cx="657.7" cy="98.1" r="2.2" fill="#f41010"/>
<circle cx="662.5" cy="98.5" r="2.2" fill="#f41010"/>
<circle cx="666.5" cy="98.5" r="2.2" fill="#f41010"/>
<circle cx="670.1" cy="98.0" r="2.2" fill="#f41010"/>
<circle cx="672.3" cy="98.4" r="2.2" fill="#f41010"/>
<circle cx="674.1" cy="97.5" r="2.2" fill="#f41010"/>
<circle cx="652.4" cy="99.9" r="2.2" fill="#f41010"/>
<circle cx="656.6" cy="99.9" r="2.2" fill="#f41010"/>
<circle cx="658.9" cy="100.1" r="2.2" fill="#f41010"/>
<circle cx="663.1" cy="100.4" r="2.2" fill="#f41010"/>
<circle cx="666.7" cy="100.3" r="2.2" fill="#f41010"/>
<circle cx="668.9" cy="99.9" r="2.2" fill="#f41010"/>
<circle cx="674.0" cy="99.6" r="2.2" fill="#f41010"/>
<circle cx="648.8" cy="102.2" r="2.2" fill="#f41010"/>
<circle cx="650.2" cy="102.9" r="2.2" fill="#f41010"/>
<circle cx="653.2" cy="101.8" r="2.2" fill="#f41010"/>
<circle cx="655.4" cy="101.8" r="2.2" fill="#f41010"/>
<circle cx="658.0" cy="102.4" r="2.2" fill="#f41010"/>
<circle cx="660.5" cy="101.6" r="2.2" fill="#f41010"/>
<circle cx="663.1" cy="101.9" r="2.2" fill="#f41010"/>
<circle cx="665.4" cy="102.2" r="2.2" fill="#f41010"/>
<circle cx="667.8" cy="101.7" r="2.2" fill="#f41010"/>
<circle cx="651.2" cy="103.6" r="2.2" fill="#f41010"/>
<circle cx="654.0" cy="104.3" r="2.2" fill="#f41010"/>
<circle cx="658.9" cy="104.1" r="2.2" fill="#f41010"/>
<circle cx="661.6" cy="103.9" r="2.2" fill="#f41010"/>
<circle cx="665.9" cy="104.4" r="2.2" fill="#f41010"/>
<circle cx="668.5" cy="104.1" r="2.2" fill="#f41010"/>
<circle cx="650.7" cy="106.3" r="2.2" fill="#f41010"/>
<circle cx="657.4" cy="106.8" r="2.2" fill="#f41010"/>
<circle cx="660.3" cy="105.9" r="2.2" fill="#f41010"/>
<circle cx="662.2" cy="107.1" r="2.2" fill="#f41010"/>
<circle cx="665.5" cy="106.6" r="2.2" fill="#f41010"/>
<circle cx="669.2" cy="105.8" r="2.2" fill="#f41010"/>
<circle cx="652.3" cy="107.9" r="2.2" fill="#f41010"/>
<circle cx="654.1" cy="108.0" r="2.2" fill="#f41010"/>
<circle cx="655.8" cy="108.3" r="2.2" fill="#f41010"/>
<circle cx="659.3" cy="108.9" r="2.2" fill="#f41010"/>
<circle cx="660.9" cy="108.0" r="2.2" fill="#f41010"/>
<circle cx="663.4" cy="108.0" r="2.2" fill="#f41010"/>
<circle cx="665.6" cy="108.5" r="2.2" fill="#f41010"/>
<circle cx="671.2" cy="60.2" r="2.2" fill="#f41010"/>
<circle cx="667.0" cy="65.5" r="2.2" fill="#f41010"/>
<circle cx="672.3" cy="70.8" r="2.2" fill="#f41010"/>
<circle cx="676.0" cy="73.0" r="2.2" fill="#f41010"/>
<circle cx="519.7" cy="107.3" r="2.2" fill="#1414ee"/>
<circle cx="539.6" cy="90.1" r="2.2" fill="#1414ee"/>
<circle cx="541.0" cy="85.3" r="2.2" fill="#1414ee"/>
<circle cx="543.1" cy="85.3" r="2.2" fill="#1414ee"/>
<circle cx="542.4" cy="80.0" r="2.2" fill="#1414ee"/>
<circle cx="542.8" cy="79.9" r="2.2" fill="#1414ee"/>
<circle cx="542.1" cy="85.2" r="2.2" fill="#1414ee"/>
<circle cx="543.9" cy="85.2" r="2.2" fill="#1414ee"/>
<circle cx="540.7" cy="90.3" r="2.2" fill="#1414ee"/>
<circle cx="567.5" cy="70.0" r="2.2" fill="#1414ee"/>
<circle cx="566.9" cy="71.9" r="2.2" fill="#1414ee"/>
<circle cx="574.1" cy="88.9" r="2.2" fill="#1414ee"/>
<circle cx="582.7" cy="93.4" r="2.2" fill="#1414ee"/>
<circle cx="607.5" cy="90.3" r="2.2" fill="#1414ee"/>
<circle cx="604.7" cy="98.5" r="2.2" fill="#1414ee"/>
<circle cx="617.8" cy="68.0" r="2.2" fill="#1414ee"/>
<circle cx="660.9" cy="35.4" r="2.2" fill="#1414ee"/>
<circle cx="671.7" cy="36.1" r="2.2" fill="#1414ee"/>
<circle cx="647.9" cy="39.7" r="2.2" fill="#1414ee"/>
<circle cx="662.0" cy="42.0" r="2.2" fill="#1414ee"/>
<circle cx="657.5" cy="44.1" r="2.2" fill="#1414ee"/>
<circle cx="668.9" cy="41.3" r="2.2" fill="#1414ee"/>
<circle cx="671.3" cy="44.8" r="2.2" fill="#1414ee"/>
<circle cx="671.7" cy="46.2" r="2.2" fill="#1414ee"/>
<circle cx="649.5" cy="45.9" r="2.2" fill="#1414ee"/>
<circle cx="644.7" cy="50.6" r="2.2" fill="#1414ee"/>
<circle cx="669.2" cy="49.6" r="2.2" fill="#1414ee"/>
<circle cx="663.4" cy="52.6" r="2.2" fill="#1414ee"/>
<circle cx="669.9" cy="53.0" r="2.2" fill="#1414ee"/>
<circle cx="669.9" cy="55.5" r="2.2" fill="#1414ee"/>
<circle cx="669.2" cy="57.9" r="2.2" fill="#1414ee"/>
<circle cx="668.5" cy="60.6" r="2.2" fill="#1414ee"/>
<circle cx="663.0" cy="61.0" r="2.2" fill="#1414ee"/>
<circle cx="652.0" cy="64.1" r="2.2" fill="#1414ee"/>
<circle cx="667.8" cy="66.8" r="2.2" fill="#1414ee"/>
<circle cx="656.1" cy="70.9" r="2.2" fill="#1414ee"/>
<circle cx="658.9" cy="72.0" r="2.2" fill="#1414ee"/>
<circle cx="663.7" cy="69.3" r="2.2" fill="#1414ee"/>
<circle cx="641.4" cy="78.9" r="2.2" fill="#1414ee"/>
<circle cx="651.8" cy="64.0" r="2.2" fill="#1414ee"/>
<circle cx="641.3" cy="79.0" r="2.2" fill="#1414ee"/>
<circle cx="636.5" cy="84.4" r="2.2" fill="#1414ee"/>
<circle cx="644.5" cy="83.8" r="2.2" fill="#1414ee"/>
<circle cx="645.3" cy="86.0" r="2.2" fill="#1414ee"/>
<circle cx="623.7" cy="92.9" r="2.2" fill="#1414ee"/>
<circle cx="633.8" cy="94.5" r="2.2" fill="#1414ee"/>
<circle cx="638.9" cy="94.1" r="2.2" fill="#1414ee"/>
<circle cx="641.3" cy="92.1" r="2.2" fill="#1414ee"/>
<circle cx="648.6" cy="89.7" r="2.2" fill="#1414ee"/>
<circle cx="653.4" cy="92.9" r="2.2" fill="#1414ee"/>
<circle cx="647.8" cy="91.3" r="2.2" fill="#1414ee"/>
<circle cx="630.9" cy="100.2" r="2.2" fill="#1414ee"/>
<circle cx="633.3" cy="98.2" r="2.2" fill="#1414ee"/>
<circle cx="618.8" cy="105.0" r="2.2" fill="#1414ee"/>
<circle cx="617.7" cy="110.6" r="2.2" fill="#1414ee"/>
<circle cx="626.1" cy="107.9" r="2.2" fill="#1414ee"/>
<circle cx="656.6" cy="70.4" r="2.2" fill="#1414ee"/>
<circle cx="655.8" cy="80.1" r="2.2" fill="#1414ee"/>
<circle cx="655.8" cy="84.1" r="2.2" fill="#1414ee"/>
<circle cx="663.0" cy="71.2" r="2.2" fill="#1414ee"/>
<circle cx="665.4" cy="68.0" r="2.2" fill="#1414ee"/>
<circle cx="667.0" cy="66.4" r="2.2" fill="#1414ee"/>
<circle cx="604.8" cy="98.8" r="2.2" fill="#1414ee"/>
<circle cx="618.3" cy="104.5" r="2.2" fill="#1414ee"/>
<circle cx="618.0" cy="110.8" r="2.2" fill="#1414ee"/>
<circle cx="626.2" cy="107.6" r="2.2" fill="#1414ee"/>
<circle cx="631.3" cy="100.0" r="2.2" fill="#1414ee"/>
<circle cx="633.2" cy="98.2" r="2.2" fill="#1414ee"/>
<circle cx="506.3" cy="320.4" r="2.2" fill="#1414ee"/>
<circle cx="508.5" cy="320.2" r="2.2" fill="#1414ee"/>
<circle cx="582.5" cy="286.1" r="2.2" fill="#1414ee"/>
<circle cx="585.7" cy="284.4" r="2.2" fill="#1414ee"/>
<circle cx="590.0" cy="286.1" r="2.2" fill="#1414ee"/>
<circle cx="586.8" cy="289.7" r="2.2" fill="#1414ee"/>
<circle cx="584.7" cy="294.0" r="2.2" fill="#1414ee"/>
<circle cx="586.8" cy="297.1" r="2.2" fill="#1414ee"/>
<circle cx="588.5" cy="288.0" r="2.2" fill="#1414ee"/>
<circle cx="584.0" cy="291.0" r="2.2" fill="#1414ee"/>
<circle cx="587.5" cy="293.0" r="2.2" fill="#1414ee"/>
<circle cx="585.5" cy="296.5" r="2.2" fill="#1414ee"/>
<circle cx="573.0" cy="312.0" r="2.2" fill="#1414ee"/>
<circle cx="580.4" cy="314.1" r="2.2" fill="#1414ee"/>
<circle cx="556.1" cy="315.1" r="2.2" fill="#1414ee"/>
<circle cx="593.1" cy="313.0" r="2.2" fill="#1414ee"/>
<circle cx="596.3" cy="312.0" r="2.2" fill="#1414ee"/>
<circle cx="599.5" cy="310.9" r="2.2" fill="#1414ee"/>
<circle cx="632.3" cy="313.0" r="2.2" fill="#1414ee"/>
<circle cx="645.0" cy="276.4" r="2.2" fill="#1414ee"/>
<circle cx="593.0" cy="312.0" r="2.2" fill="#1414ee"/>
<circle cx="596.0" cy="310.6" r="2.2" fill="#1414ee"/>
<circle cx="559.5" cy="310.3" r="2.2" fill="#1414ee"/>
<circle cx="637.9" cy="291.9" r="2.2" fill="#1414ee"/>
<circle cx="639.7" cy="291.0" r="2.2" fill="#1414ee"/>
<circle cx="644.3" cy="288.7" r="2.2" fill="#1414ee"/>
<circle cx="646.1" cy="291.0" r="2.2" fill="#1414ee"/>
<circle cx="648.9" cy="292.4" r="2.2" fill="#1414ee"/>
<circle cx="649.8" cy="294.7" r="2.2" fill="#1414ee"/>
<circle cx="648.0" cy="296.5" r="2.2" fill="#1414ee"/>
<circle cx="644.7" cy="296.1" r="2.2" fill="#1414ee"/>
<circle cx="642.0" cy="295.2" r="2.2" fill="#1414ee"/>
<circle cx="638.8" cy="296.1" r="2.2" fill="#1414ee"/>
<circle cx="636.9" cy="299.3" r="2.2" fill="#1414ee"/>
<circle cx="639.7" cy="301.1" r="2.2" fill="#1414ee"/>
<circle cx="642.9" cy="300.2" r="2.2" fill="#1414ee"/>
<circle cx="636.0" cy="303.9" r="2.2" fill="#1414ee"/>
<circle cx="633.3" cy="304.8" r="2.2" fill="#1414ee"/>
<circle cx="631.4" cy="307.5" r="2.2" fill="#1414ee"/>
<circle cx="634.2" cy="307.5" r="2.2" fill="#1414ee"/>
<circle cx="638.8" cy="305.7" r="2.2" fill="#1414ee"/>
<circle cx="642.4" cy="304.8" r="2.2" fill="#1414ee"/>
<circle cx="644.3" cy="309.4" r="2.2" fill="#1414ee"/>
<circle cx="641.5" cy="311.2" r="2.2" fill="#1414ee"/>
<circle cx="632.3" cy="313.1" r="2.2" fill="#1414ee"/>
<circle cx="648.9" cy="307.5" r="2.2" fill="#1414ee"/>
<circle cx="652.5" cy="306.6" r="2.2" fill="#1414ee"/>
<circle cx="657.6" cy="287.8" r="2.2" fill="#1414ee"/>
<circle cx="658.1" cy="290.1" r="2.2" fill="#1414ee"/>
<circle cx="657.6" cy="292.9" r="2.2" fill="#1414ee"/>
<circle cx="659.0" cy="295.2" r="2.2" fill="#1414ee"/>
<circle cx="660.4" cy="297.0" r="2.2" fill="#1414ee"/>
<circle cx="656.2" cy="296.5" r="2.2" fill="#1414ee"/>
<circle cx="654.4" cy="299.3" r="2.2" fill="#1414ee"/>
<circle cx="659.0" cy="301.1" r="2.2" fill="#1414ee"/>
<circle cx="657.1" cy="303.0" r="2.2" fill="#1414ee"/>
<circle cx="652.5" cy="301.1" r="2.2" fill="#1414ee"/>
<circle cx="650.7" cy="298.4" r="2.2" fill="#1414ee"/>
<circle cx="640.5" cy="293.5" r="2.2" fill="#1414ee"/>
<circle cx="635.0" cy="302.0" r="2.2" fill="#1414ee"/>
<circle cx="641.0" cy="298.0" r="2.2" fill="#1414ee"/>
<circle cx="645.5" cy="293.5" r="2.2" fill="#1414ee"/>
<circle cx="637.5" cy="309.5" r="2.2" fill="#1414ee"/>
<circle cx="646.0" cy="302.5" r="2.2" fill="#1414ee"/>
<circle cx="653.0" cy="296.5" r="2.2" fill="#1414ee"/>
<circle cx="634.0" cy="310.5" r="2.2" fill="#1414ee"/>
<circle cx="560.3" cy="310.9" r="2.2" fill="#f41010"/>
<circle cx="556.1" cy="320.0" r="2.2" fill="#f41010"/>
<circle cx="569.8" cy="314.1" r="2.2" fill="#f41010"/>
<circle cx="575.1" cy="318.7" r="2.2" fill="#f41010"/>
<circle cx="583.6" cy="321.5" r="2.2" fill="#f41010"/>
<circle cx="615.3" cy="301.4" r="2.2" fill="#f41010"/>
<circle cx="598.4" cy="307.7" r="2.2" fill="#f41010"/>
<circle cx="602.6" cy="307.3" r="2.2" fill="#f41010"/>
<circle cx="618.5" cy="306.7" r="2.2" fill="#f41010"/>
<circle cx="620.6" cy="305.6" r="2.2" fill="#f41010"/>
<circle cx="629.1" cy="297.6" r="2.2" fill="#f41010"/>
<circle cx="614.3" cy="309.8" r="2.2" fill="#f41010"/>
<circle cx="605.8" cy="314.1" r="2.2" fill="#f41010"/>
<circle cx="593.1" cy="317.2" r="2.2" fill="#f41010"/>
<circle cx="599.5" cy="320.4" r="2.2" fill="#f41010"/>
<circle cx="590.0" cy="321.5" r="2.2" fill="#f41010"/>
<circle cx="607.9" cy="319.4" r="2.2" fill="#f41010"/>
<circle cx="622.8" cy="313.0" r="2.2" fill="#f41010"/>
<circle cx="627.0" cy="318.3" r="2.2" fill="#f41010"/>
<circle cx="628.7" cy="297.9" r="2.2" fill="#f41010"/>
<circle cx="615.3" cy="302.4" r="2.2" fill="#f41010"/>
<circle cx="619.8" cy="306.1" r="2.2" fill="#f41010"/>
<circle cx="596.7" cy="307.6" r="2.2" fill="#f41010"/>
<circle cx="600.4" cy="306.8" r="2.2" fill="#f41010"/>
<circle cx="624.3" cy="312.0" r="2.2" fill="#f41010"/>
<circle cx="604.9" cy="312.0" r="2.2" fill="#f41010"/>
<circle cx="614.6" cy="300.9" r="2.2" fill="#f41010"/>
<circle cx="560.6" cy="310.8" r="2.2" fill="#f41010"/>
<circle cx="559.9" cy="316.3" r="2.2" fill="#f41010"/>
<circle cx="555.1" cy="315.7" r="2.2" fill="#f41010"/>
<circle cx="555.1" cy="320.1" r="2.2" fill="#f41010"/>
<circle cx="569.6" cy="314.3" r="2.2" fill="#f41010"/>
<circle cx="581.3" cy="319.1" r="2.2" fill="#f41010"/>
<circle cx="584.0" cy="318.4" r="2.2" fill="#f41010"/>
<circle cx="589.5" cy="315.7" r="2.2" fill="#f41010"/>
<circle cx="597.8" cy="307.7" r="2.2" fill="#f41010"/>
<circle cx="550.3" cy="322.5" r="2.2" fill="#f41010"/>
<circle cx="544.1" cy="326.0" r="2.2" fill="#f41010"/>
<circle cx="535.1" cy="330.1" r="2.2" fill="#f41010"/>
<circle cx="530.3" cy="331.9" r="2.2" fill="#f41010"/>
<circle cx="529.6" cy="340.2" r="2.2" fill="#f41010"/>
<circle cx="538.6" cy="348.7" r="2.2" fill="#f41010"/>
<circle cx="547.5" cy="347.3" r="2.2" fill="#f41010"/>
<circle cx="559.2" cy="350.1" r="2.2" fill="#f41010"/>
<circle cx="527.9" cy="339.2" r="2.2" fill="#f41010"/>
<circle cx="537.8" cy="347.5" r="2.2" fill="#f41010"/>
<circle cx="559.3" cy="349.1" r="2.2" fill="#f41010"/>
<circle cx="564.1" cy="342.5" r="2.2" fill="#f41010"/>
<circle cx="579.2" cy="339.8" r="2.2" fill="#f41010"/>
<circle cx="583.3" cy="338.4" r="2.2" fill="#f41010"/>
<circle cx="615.4" cy="301.0" r="2.2" fill="#f41010"/>
<circle cx="629.0" cy="297.8" r="2.2" fill="#f41010"/>
<circle cx="609.0" cy="296.5" r="2.2" fill="#f41010"/>
<circle cx="604.0" cy="299.0" r="2.2" fill="#f41010"/>
<circle cx="693.0" cy="300.0" r="2.2" fill="#f41010"/>
<circle cx="686.0" cy="292.0" r="2.2" fill="#f41010"/>
<circle cx="628.7" cy="297.4" r="2.2" fill="#f41010"/>
<circle cx="661.7" cy="294.2" r="2.2" fill="#f41010"/>
<circle cx="652.5" cy="296.1" r="2.2" fill="#f41010"/>
<circle cx="647.0" cy="303.0" r="2.2" fill="#f41010"/>
<circle cx="649.3" cy="304.3" r="2.2" fill="#f41010"/>
<circle cx="652.5" cy="303.9" r="2.2" fill="#f41010"/>
<circle cx="655.3" cy="301.1" r="2.2" fill="#f41010"/>
<circle cx="659.9" cy="300.7" r="2.2" fill="#f41010"/>
<circle cx="647.0" cy="306.6" r="2.2" fill="#f41010"/>
<circle cx="651.6" cy="307.5" r="2.2" fill="#f41010"/>
<circle cx="639.7" cy="309.4" r="2.2" fill="#f41010"/>
<circle cx="637.9" cy="315.8" r="2.2" fill="#f41010"/>
<circle cx="656.2" cy="306.6" r="2.2" fill="#f41010"/>
<circle cx="659.9" cy="304.8" r="2.2" fill="#f41010"/>
<circle cx="665.4" cy="305.7" r="2.2" fill="#f41010"/>
<circle cx="668.2" cy="307.5" r="2.2" fill="#f41010"/>
<circle cx="668.2" cy="298.4" r="2.2" fill="#f41010"/>
<circle cx="658.1" cy="310.3" r="2.2" fill="#f41010"/>
<circle cx="643.4" cy="316.7" r="2.2" fill="#f41010"/>
<circle cx="630.5" cy="315.8" r="2.2" fill="#f41010"/>
<circle cx="650.0" cy="310.5" r="2.2" fill="#f41010"/>
<circle cx="654.0" cy="309.5" r="2.2" fill="#f41010"/>
<circle cx="662.0" cy="308.0" r="2.2" fill="#f41010"/>
<circle cx="645.0" cy="313.0" r="2.2" fill="#f41010"/>
<circle cx="648.0" cy="315.5" r="2.2" fill="#f41010"/>
<circle cx="684.3" cy="294.1" r="2.2" fill="#f41010"/>
<circle cx="676.1" cy="296.3" r="2.2" fill="#f41010"/>
<circle cx="681.5" cy="295.9" r="2.2" fill="#f41010"/>
<circle cx="674.6" cy="297.8" r="2.2" fill="#f41010"/>
<circle cx="681.8" cy="298.7" r="2.2" fill="#f41010"/>
<circle cx="685.6" cy="299.0" r="2.2" fill="#f41010"/>
<circle cx="676.3" cy="301.1" r="2.2" fill="#f41010"/>
<circle cx="678.1" cy="299.8" r="2.2" fill="#f41010"/>
<circle cx="683.8" cy="301.1" r="2.2" fill="#f41010"/>
<circle cx="686.3" cy="301.3" r="2.2" fill="#f41010"/>
<circle cx="672.0" cy="303.7" r="2.2" fill="#f41010"/>
<circle cx="674.9" cy="303.2" r="2.2" fill="#f41010"/>
<circle cx="684.4" cy="303.2" r="2.2" fill="#f41010"/>
<circle cx="669.9" cy="304.3" r="2.2" fill="#f41010"/>
<circle cx="675.7" cy="306.2" r="2.2" fill="#f41010"/>
<circle cx="681.7" cy="305.0" r="2.2" fill="#f41010"/>
<circle cx="685.4" cy="305.1" r="2.2" fill="#f41010"/>
<circle cx="689.0" cy="305.9" r="2.2" fill="#f41010"/>
<circle cx="669.1" cy="307.8" r="2.2" fill="#f41010"/>
<circle cx="677.3" cy="307.8" r="2.2" fill="#f41010"/>
<circle cx="658.3" cy="309.8" r="2.2" fill="#f41010"/>
<circle cx="662.9" cy="310.9" r="2.2" fill="#f41010"/>
<circle cx="664.0" cy="309.3" r="2.2" fill="#f41010"/>
<circle cx="668.3" cy="309.6" r="2.2" fill="#f41010"/>
<circle cx="673.4" cy="310.6" r="2.2" fill="#f41010"/>
<circle cx="680.3" cy="309.2" r="2.2" fill="#f41010"/>
<circle cx="686.8" cy="310.2" r="2.2" fill="#f41010"/>
<circle cx="688.1" cy="310.0" r="2.2" fill="#f41010"/>
<circle cx="652.4" cy="312.7" r="2.2" fill="#f41010"/>
<circle cx="655.6" cy="311.9" r="2.2" fill="#f41010"/>
<circle cx="657.2" cy="312.1" r="2.2" fill="#f41010"/>
<circle cx="666.9" cy="311.3" r="2.2" fill="#f41010"/>
<circle cx="668.2" cy="313.0" r="2.2" fill="#f41010"/>
<circle cx="682.8" cy="312.8" r="2.2" fill="#f41010"/>
<circle cx="613.4" cy="315.1" r="2.2" fill="#f41010"/>
<circle cx="618.0" cy="315.6" r="2.2" fill="#f41010"/>
<circle cx="646.7" cy="315.0" r="2.2" fill="#f41010"/>
<circle cx="649.2" cy="313.8" r="2.2" fill="#f41010"/>
<circle cx="653.3" cy="314.3" r="2.2" fill="#f41010"/>
<circle cx="669.7" cy="314.2" r="2.2" fill="#f41010"/>
<circle cx="673.7" cy="315.4" r="2.2" fill="#f41010"/>
<circle cx="675.1" cy="314.4" r="2.2" fill="#f41010"/>
<circle cx="684.0" cy="314.5" r="2.2" fill="#f41010"/>
<circle cx="685.7" cy="314.9" r="2.2" fill="#f41010"/>
<circle cx="607.0" cy="316.9" r="2.2" fill="#f41010"/>
<circle cx="614.1" cy="318.0" r="2.2" fill="#f41010"/>
<circle cx="616.8" cy="316.9" r="2.2" fill="#f41010"/>
<circle cx="620.9" cy="317.6" r="2.2" fill="#f41010"/>
<circle cx="623.8" cy="317.2" r="2.2" fill="#f41010"/>
<circle cx="625.1" cy="317.7" r="2.2" fill="#f41010"/>
<circle cx="627.3" cy="317.9" r="2.2" fill="#f41010"/>
<circle cx="644.8" cy="317.6" r="2.2" fill="#f41010"/>
<circle cx="649.7" cy="316.4" r="2.2" fill="#f41010"/>
<circle cx="651.6" cy="316.3" r="2.2" fill="#f41010"/>
<circle cx="655.4" cy="316.7" r="2.2" fill="#f41010"/>
<circle cx="658.5" cy="316.4" r="2.2" fill="#f41010"/>
<circle cx="660.8" cy="316.5" r="2.2" fill="#f41010"/>
<circle cx="669.0" cy="317.4" r="2.2" fill="#f41010"/>
<circle cx="671.5" cy="317.3" r="2.2" fill="#f41010"/>
<circle cx="674.5" cy="316.2" r="2.2" fill="#f41010"/>
<circle cx="677.3" cy="317.0" r="2.2" fill="#f41010"/>
<circle cx="598.0" cy="320.0" r="2.2" fill="#f41010"/>
<circle cx="600.6" cy="320.2" r="2.2" fill="#f41010"/>
<circle cx="601.7" cy="319.1" r="2.2" fill="#f41010"/>
<circle cx="605.4" cy="319.0" r="2.2" fill="#f41010"/>
<circle cx="608.3" cy="320.1" r="2.2" fill="#f41010"/>
<circle cx="610.1" cy="319.0" r="2.2" fill="#f41010"/>
<circle cx="620.6" cy="319.5" r="2.2" fill="#f41010"/>
<circle cx="624.8" cy="319.2" r="2.2" fill="#f41010"/>
<circle cx="626.6" cy="319.9" r="2.2" fill="#f41010"/>
<circle cx="629.6" cy="319.3" r="2.2" fill="#f41010"/>
<circle cx="631.6" cy="319.7" r="2.2" fill="#f41010"/>
<circle cx="639.7" cy="320.1" r="2.2" fill="#f41010"/>
<circle cx="642.3" cy="318.8" r="2.2" fill="#f41010"/>
<circle cx="645.7" cy="318.6" r="2.2" fill="#f41010"/>
<circle cx="661.2" cy="319.7" r="2.2" fill="#f41010"/>
<circle cx="669.9" cy="318.6" r="2.2" fill="#f41010"/>
<circle cx="579.3" cy="322.3" r="2.2" fill="#f41010"/>
<circle cx="582.5" cy="322.0" r="2.2" fill="#f41010"/>
<circle cx="586.8" cy="321.0" r="2.2" fill="#f41010"/>
<circle cx="591.4" cy="321.9" r="2.2" fill="#f41010"/>
<circle cx="592.1" cy="321.0" r="2.2" fill="#f41010"/>
<circle cx="595.0" cy="321.2" r="2.2" fill="#f41010"/>
<circle cx="607.4" cy="322.0" r="2.2" fill="#f41010"/>
<circle cx="608.8" cy="322.2" r="2.2" fill="#f41010"/>
<circle cx="611.3" cy="321.9" r="2.2" fill="#f41010"/>
<circle cx="614.6" cy="320.9" r="2.2" fill="#f41010"/>
<circle cx="618.3" cy="321.1" r="2.2" fill="#f41010"/>
<circle cx="622.3" cy="320.9" r="2.2" fill="#f41010"/>
<circle cx="625.1" cy="321.4" r="2.2" fill="#f41010"/>
<circle cx="631.7" cy="321.0" r="2.2" fill="#f41010"/>
<circle cx="634.3" cy="322.7" r="2.2" fill="#f41010"/>
<circle cx="637.3" cy="321.3" r="2.2" fill="#f41010"/>
<circle cx="638.2" cy="322.2" r="2.2" fill="#f41010"/>
<circle cx="646.9" cy="322.6" r="2.2" fill="#f41010"/>
<circle cx="648.8" cy="321.3" r="2.2" fill="#f41010"/>
<circle cx="652.4" cy="321.4" r="2.2" fill="#f41010"/>
<circle cx="658.0" cy="322.6" r="2.2" fill="#f41010"/>
<circle cx="562.7" cy="324.2" r="2.2" fill="#f41010"/>
<circle cx="564.4" cy="324.6" r="2.2" fill="#f41010"/>
<circle cx="567.9" cy="324.8" r="2.2" fill="#f41010"/>
<circle cx="569.8" cy="324.9" r="2.2" fill="#f41010"/>
<circle cx="582.8" cy="323.5" r="2.2" fill="#f41010"/>
<circle cx="588.8" cy="324.2" r="2.2" fill="#f41010"/>
<circle cx="597.8" cy="324.7" r="2.2" fill="#f41010"/>
<circle cx="599.6" cy="324.4" r="2.2" fill="#f41010"/>
<circle cx="606.1" cy="324.8" r="2.2" fill="#f41010"/>
<circle cx="607.0" cy="324.7" r="2.2" fill="#f41010"/>
<circle cx="610.4" cy="325.0" r="2.2" fill="#f41010"/>
<circle cx="618.7" cy="324.7" r="2.2" fill="#f41010"/>
<circle cx="621.3" cy="323.9" r="2.2" fill="#f41010"/>
<circle cx="624.9" cy="324.7" r="2.2" fill="#f41010"/>
<circle cx="631.7" cy="323.3" r="2.2" fill="#f41010"/>
<circle cx="634.3" cy="323.9" r="2.2" fill="#f41010"/>
<circle cx="637.2" cy="324.5" r="2.2" fill="#f41010"/>
<circle cx="639.5" cy="323.5" r="2.2" fill="#f41010"/>
<circle cx="644.0" cy="324.2" r="2.2" fill="#f41010"/>
<circle cx="650.4" cy="323.9" r="2.2" fill="#f41010"/>
<circle cx="653.8" cy="324.9" r="2.2" fill="#f41010"/>
<circle cx="550.9" cy="326.6" r="2.2" fill="#f41010"/>
<circle cx="560.5" cy="325.5" r="2.2" fill="#f41010"/>
<circle cx="574.1" cy="326.0" r="2.2" fill="#f41010"/>
<circle cx="577.7" cy="326.8" r="2.2" fill="#f41010"/>
<circle cx="578.9" cy="325.7" r="2.2" fill="#f41010"/>
<circle cx="587.9" cy="326.6" r="2.2" fill="#f41010"/>
<circle cx="592.8" cy="325.6" r="2.2" fill="#f41010"/>
<circle cx="598.4" cy="327.1" r="2.2" fill="#f41010"/>
<circle cx="608.6" cy="326.2" r="2.2" fill="#f41010"/>
<circle cx="611.8" cy="325.9" r="2.2" fill="#f41010"/>
<circle cx="617.4" cy="325.5" r="2.2" fill="#f41010"/>
<circle cx="625.0" cy="326.4" r="2.2" fill="#f41010"/>
<circle cx="630.7" cy="325.6" r="2.2" fill="#f41010"/>
<circle cx="636.2" cy="326.4" r="2.2" fill="#f41010"/>
<circle cx="638.9" cy="327.2" r="2.2" fill="#f41010"/>
<circle cx="647.5" cy="326.1" r="2.2" fill="#f41010"/>
<circle cx="651.6" cy="325.5" r="2.2" fill="#f41010"/>
<circle cx="545.3" cy="329.3" r="2.2" fill="#f41010"/>
<circle cx="554.5" cy="329.1" r="2.2" fill="#f41010"/>
<circle cx="563.9" cy="327.9" r="2.2" fill="#f41010"/>
<circle cx="570.1" cy="328.4" r="2.2" fill="#f41010"/>
<circle cx="573.7" cy="327.9" r="2.2" fill="#f41010"/>
<circle cx="578.2" cy="328.7" r="2.2" fill="#f41010"/>
<circle cx="589.7" cy="329.5" r="2.2" fill="#f41010"/>
<circle cx="590.9" cy="328.0" r="2.2" fill="#f41010"/>
<circle cx="597.0" cy="329.2" r="2.2" fill="#f41010"/>
<circle cx="602.7" cy="329.0" r="2.2" fill="#f41010"/>
<circle cx="608.2" cy="328.0" r="2.2" fill="#f41010"/>
<circle cx="619.4" cy="328.6" r="2.2" fill="#f41010"/>
<circle cx="639.7" cy="329.1" r="2.2" fill="#f41010"/>
<circle cx="642.1" cy="328.4" r="2.2" fill="#f41010"/>
<circle cx="539.1" cy="331.7" r="2.2" fill="#f41010"/>
<circle cx="542.4" cy="331.7" r="2.2" fill="#f41010"/>
<circle cx="544.4" cy="330.3" r="2.2" fill="#f41010"/>
<circle cx="547.2" cy="331.2" r="2.2" fill="#f41010"/>
<circle cx="550.4" cy="330.8" r="2.2" fill="#f41010"/>
<circle cx="553.4" cy="331.8" r="2.2" fill="#f41010"/>
<circle cx="555.8" cy="331.6" r="2.2" fill="#f41010"/>
<circle cx="559.0" cy="330.3" r="2.2" fill="#f41010"/>
<circle cx="560.4" cy="331.0" r="2.2" fill="#f41010"/>
<circle cx="566.0" cy="330.8" r="2.2" fill="#f41010"/>
<circle cx="567.9" cy="330.2" r="2.2" fill="#f41010"/>
<circle cx="571.5" cy="330.7" r="2.2" fill="#f41010"/>
<circle cx="573.7" cy="330.1" r="2.2" fill="#f41010"/>
<circle cx="584.2" cy="331.3" r="2.2" fill="#f41010"/>
<circle cx="591.4" cy="330.5" r="2.2" fill="#f41010"/>
<circle cx="592.2" cy="331.4" r="2.2" fill="#f41010"/>
<circle cx="595.9" cy="331.9" r="2.2" fill="#f41010"/>
<circle cx="603.3" cy="330.4" r="2.2" fill="#f41010"/>
<circle cx="609.1" cy="331.7" r="2.2" fill="#f41010"/>
<circle cx="614.3" cy="331.6" r="2.2" fill="#f41010"/>
<circle cx="638.5" cy="330.1" r="2.2" fill="#f41010"/>
<circle cx="641.0" cy="330.6" r="2.2" fill="#f41010"/>
<circle cx="531.4" cy="333.2" r="2.2" fill="#f41010"/>
<circle cx="534.4" cy="333.1" r="2.2" fill="#f41010"/>
<circle cx="536.8" cy="332.5" r="2.2" fill="#f41010"/>
<circle cx="543.1" cy="333.9" r="2.2" fill="#f41010"/>
<circle cx="551.0" cy="333.9" r="2.2" fill="#f41010"/>
<circle cx="554.5" cy="332.7" r="2.2" fill="#f41010"/>
<circle cx="559.2" cy="333.7" r="2.2" fill="#f41010"/>
<circle cx="562.8" cy="332.9" r="2.2" fill="#f41010"/>
<circle cx="563.9" cy="332.6" r="2.2" fill="#f41010"/>
<circle cx="569.4" cy="334.1" r="2.2" fill="#f41010"/>
<circle cx="572.6" cy="332.9" r="2.2" fill="#f41010"/>
<circle cx="578.5" cy="334.1" r="2.2" fill="#f41010"/>
<circle cx="580.2" cy="332.8" r="2.2" fill="#f41010"/>
<circle cx="583.5" cy="333.4" r="2.2" fill="#f41010"/>
<circle cx="588.2" cy="332.6" r="2.2" fill="#f41010"/>
<circle cx="591.1" cy="332.9" r="2.2" fill="#f41010"/>
<circle cx="598.1" cy="333.6" r="2.2" fill="#f41010"/>
<circle cx="599.8" cy="333.2" r="2.2" fill="#f41010"/>
<circle cx="601.8" cy="333.8" r="2.2" fill="#f41010"/>
<circle cx="605.2" cy="333.8" r="2.2" fill="#f41010"/>
<circle cx="533.5" cy="334.9" r="2.2" fill="#f41010"/>
<circle cx="535.6" cy="336.7" r="2.2" fill="#f41010"/>
<circle cx="538.3" cy="336.6" r="2.2" fill="#f41010"/>
<circle cx="542.6" cy="336.0" r="2.2" fill="#f41010"/>
<circle cx="550.4" cy="336.6" r="2.2" fill="#f41010"/>
<circle cx="552.1" cy="335.6" r="2.2" fill="#f41010"/>
<circle cx="555.8" cy="336.1" r="2.2" fill="#f41010"/>
<circle cx="567.0" cy="336.8" r="2.2" fill="#f41010"/>
<circle cx="569.3" cy="335.6" r="2.2" fill="#f41010"/>
<circle cx="572.4" cy="335.4" r="2.2" fill="#f41010"/>
<circle cx="574.3" cy="336.2" r="2.2" fill="#f41010"/>
<circle cx="576.6" cy="336.2" r="2.2" fill="#f41010"/>
<circle cx="532.2" cy="337.7" r="2.2" fill="#f41010"/>
<circle cx="535.3" cy="338.2" r="2.2" fill="#f41010"/>
<circle cx="544.9" cy="339.0" r="2.2" fill="#f41010"/>
<circle cx="548.9" cy="337.4" r="2.2" fill="#f41010"/>
<circle cx="550.3" cy="338.6" r="2.2" fill="#f41010"/>
<circle cx="553.7" cy="337.4" r="2.2" fill="#f41010"/>
<circle cx="557.0" cy="338.2" r="2.2" fill="#f41010"/>
<circle cx="560.0" cy="338.3" r="2.2" fill="#f41010"/>
<circle cx="566.6" cy="339.1" r="2.2" fill="#f41010"/>
<circle cx="534.5" cy="341.4" r="2.2" fill="#f41010"/>
<circle cx="539.4" cy="341.3" r="2.2" fill="#f41010"/>
<circle cx="555.9" cy="340.0" r="2.2" fill="#f41010"/>
<circle cx="563.9" cy="340.0" r="2.2" fill="#f41010"/>
<circle cx="538.4" cy="343.5" r="2.2" fill="#f41010"/>
<circle cx="541.1" cy="342.8" r="2.2" fill="#f41010"/>
<circle cx="551.2" cy="343.3" r="2.2" fill="#f41010"/>
<circle cx="553.7" cy="343.5" r="2.2" fill="#f41010"/>
<circle cx="556.0" cy="342.0" r="2.2" fill="#f41010"/>
<circle cx="558.7" cy="342.4" r="2.2" fill="#f41010"/>
<circle cx="537.4" cy="344.2" r="2.2" fill="#f41010"/>
<circle cx="538.5" cy="345.1" r="2.2" fill="#f41010"/>
<circle cx="543.9" cy="344.2" r="2.2" fill="#f41010"/>
<circle cx="548.1" cy="344.4" r="2.2" fill="#f41010"/>
<circle cx="549.8" cy="344.7" r="2.2" fill="#f41010"/>
<circle cx="557.7" cy="346.0" r="2.2" fill="#f41010"/>
<text transform="translate(82.7,74.9) rotate(90)" class="lb" font-size="10.3" text-anchor="middle" dominant-baseline="central" textLength="49" lengthAdjust="spacingAndGlyphs">CHARMM</text>
<text transform="translate(104.9,181.2) rotate(54)" class="lb" font-size="10.2" text-anchor="middle" dominant-baseline="central" textLength="37" lengthAdjust="spacingAndGlyphs">RWplus</text>
<text transform="translate(245.7,206.5) rotate(-3)" class="lb" font-size="10.2" text-anchor="middle" dominant-baseline="central" textLength="37.5" lengthAdjust="spacingAndGlyphs">Rosetta</text>
<text transform="translate(82.4,306.7) rotate(90)" class="lb" font-size="9.4" text-anchor="middle" dominant-baseline="central" textLength="44.5" lengthAdjust="spacingAndGlyphs">CHARMM</text>
<text transform="translate(135.1,413.1) rotate(20.5)" class="lb" font-size="9.4" text-anchor="middle" dominant-baseline="central" textLength="34.5" lengthAdjust="spacingAndGlyphs">RWplus</text>
<text transform="translate(282.8,421.3) rotate(-7.5)" class="lb" font-size="9.4" text-anchor="middle" dominant-baseline="central" textLength="33" lengthAdjust="spacingAndGlyphs">Rosetta</text>
<text transform="translate(747.5,99.8) rotate(-90)" class="lb" font-size="9.9" text-anchor="middle" dominant-baseline="central" textLength="47" lengthAdjust="spacingAndGlyphs">CHARMM</text>
<text transform="translate(501.5,204.8) rotate(13)" class="lb" font-size="9.9" text-anchor="middle" dominant-baseline="central" textLength="35.5" lengthAdjust="spacingAndGlyphs">Rosetta</text>
<text transform="translate(662.9,209.8) rotate(-8)" class="lb" font-size="9.9" text-anchor="middle" dominant-baseline="central" textLength="36" lengthAdjust="spacingAndGlyphs">RWplus</text>
<text transform="translate(742.4,318.4) rotate(-90)" class="lb" font-size="10.2" text-anchor="middle" dominant-baseline="central" textLength="48" lengthAdjust="spacingAndGlyphs">CHARMM</text>
<text transform="translate(482.1,413.4) rotate(28)" class="lb" font-size="10.2" text-anchor="middle" dominant-baseline="central" textLength="37" lengthAdjust="spacingAndGlyphs">Rosetta</text>
<text transform="translate(629.4,426) rotate(-2.5)" class="lb" font-size="10.2" text-anchor="middle" dominant-baseline="central" textLength="37.5" lengthAdjust="spacingAndGlyphs">RWplus</text>
<text x="9.3" y="117.8" font-family="Liberation Serif" font-size="15.5" fill="#111">(<tspan font-weight="bold">a</tspan>)</text>
<text x="8.7" y="332.3" font-family="Liberation Serif" font-size="15.5" fill="#111">(<tspan font-weight="bold">b</tspan>)</text>
<text x="395.9" y="117.8" font-family="Liberation Serif" font-size="15.5" fill="#111">(<tspan font-weight="bold">c</tspan>)</text>
<text x="395.5" y="332.3" font-family="Liberation Serif" font-size="15.5" fill="#111">(<tspan font-weight="bold">d</tspan>)</text>
<rect x="243.8" y="27.5" width="62.9" height="28.6" rx="1.5" fill="#fff" fill-opacity="0.85" stroke="#d6d6d6" stroke-width="0.6"/>
<circle cx="256.4" cy="35.8" r="1.75" fill="#1010f0"/>
<circle cx="256.4" cy="48.9" r="1.75" fill="#f01515"/>
<text x="272.9" y="38.2" class="lg" font-size="9.3" textLength="30" lengthAdjust="spacingAndGlyphs">AIR1.0</text>
<text x="272.9" y="50.9" class="lg" font-size="9.3" textLength="30" lengthAdjust="spacingAndGlyphs">AIR2.0</text>
<rect x="277.8" y="242.4" width="55.8" height="25.1" rx="1.5" fill="#fff" fill-opacity="0.85" stroke="#d6d6d6" stroke-width="0.6"/>
<circle cx="288.7" cy="249.3" r="1.75" fill="#1010f0"/>
<circle cx="288.7" cy="261.0" r="1.75" fill="#f01515"/>
<text x="303.3" y="251.7" class="lg" font-size="8.6" textLength="27" lengthAdjust="spacingAndGlyphs">AIR1.0</text>
<text x="303.3" y="262.9" class="lg" font-size="8.6" textLength="27" lengthAdjust="spacingAndGlyphs">AIR2.0</text>
<rect x="488.8" y="22.6" width="60.7" height="26.4" rx="1.5" fill="#fff" fill-opacity="0.85" stroke="#d6d6d6" stroke-width="0.6"/>
<circle cx="500.7" cy="29.6" r="1.75" fill="#1010f0"/>
<circle cx="500.7" cy="42.0" r="1.75" fill="#f01515"/>
<text x="516.4" y="32.1" class="lg" font-size="9.0" textLength="29.3" lengthAdjust="spacingAndGlyphs">AIR1.0</text>
<text x="516.4" y="44.2" class="lg" font-size="9.0" textLength="29.3" lengthAdjust="spacingAndGlyphs">AIR2.0</text>
<rect x="487.7" y="232.1" width="61.8" height="28.2" rx="1.5" fill="#fff" fill-opacity="0.85" stroke="#d6d6d6" stroke-width="0.6"/>
<circle cx="499.8" cy="239.5" r="1.75" fill="#1010f0"/>
<circle cx="499.8" cy="252.4" r="1.75" fill="#f01515"/>
<text x="516.1" y="241.9" class="lg" font-size="9.3" textLength="30" lengthAdjust="spacingAndGlyphs">AIR1.0</text>
<text x="516.1" y="254.9" class="lg" font-size="9.3" textLength="30" lengthAdjust="spacingAndGlyphs">AIR2.0</text>
</svg></body></html>
